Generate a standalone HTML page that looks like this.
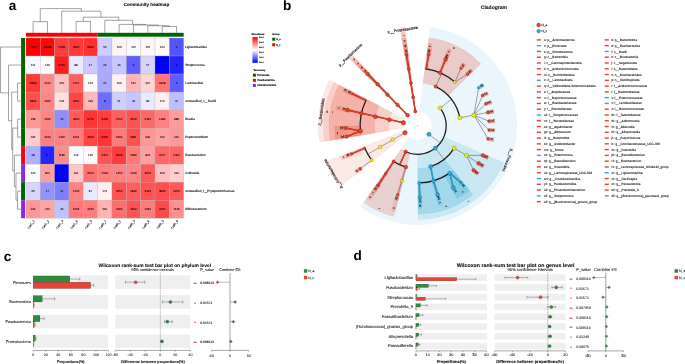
<!DOCTYPE html>
<html><head><meta charset="utf-8"><title>Figure</title>
<style>html,body{margin:0;padding:0;background:#fff;}svg{display:block;font-family:"Liberation Sans",sans-serif;will-change:transform;}</style>
</head><body>
<svg width="685" height="364" viewBox="0 0 685 364" text-rendering="geometricPrecision" font-family="Liberation Sans, sans-serif">
<rect x="0" y="0" width="685" height="364" fill="#ffffff"/>
<g id="pa">
<text x="8.7" y="9.9" font-size="13.6" font-weight="bold" fill="#000">a</text>
<text x="146.5" y="6.2" font-size="4.6" font-weight="bold" text-anchor="middle" fill="#000" stroke="#000" stroke-width="0.06">Community heatmap</text>
<g stroke="#b4acac" stroke-width="0.28">
<rect x="25.9" y="38" width="14.35" height="18.02" fill="#ff0000"/>
<rect x="40.24" y="38" width="14.35" height="18.02" fill="#ff0808"/>
<rect x="54.59" y="38" width="14.35" height="18.02" fill="#ff3d3d"/>
<rect x="68.94" y="38" width="14.35" height="18.02" fill="#ff3939"/>
<rect x="83.28" y="38" width="14.35" height="18.02" fill="#ff3232"/>
<rect x="97.62" y="38" width="14.35" height="18.02" fill="#cdcdff"/>
<rect x="111.97" y="38" width="14.35" height="18.02" fill="#fff4f4"/>
<rect x="126.31" y="38" width="14.35" height="18.02" fill="#f8f8ff"/>
<rect x="140.66" y="38" width="14.35" height="18.02" fill="#fff7f7"/>
<rect x="155.01" y="38" width="14.35" height="18.02" fill="#fffafa"/>
<rect x="169.35" y="38" width="14.35" height="18.02" fill="#5454ff"/>
<rect x="25.9" y="56.02" width="14.35" height="18.02" fill="#f7f7ff"/>
<rect x="40.24" y="56.02" width="14.35" height="18.02" fill="#fffbfb"/>
<rect x="54.59" y="56.02" width="14.35" height="18.02" fill="#ff1d1d"/>
<rect x="68.94" y="56.02" width="14.35" height="18.02" fill="#eaeaff"/>
<rect x="83.28" y="56.02" width="14.35" height="18.02" fill="#cacaff"/>
<rect x="97.62" y="56.02" width="14.35" height="18.02" fill="#ababff"/>
<rect x="111.97" y="56.02" width="14.35" height="18.02" fill="#c8c8ff"/>
<rect x="126.31" y="56.02" width="14.35" height="18.02" fill="#5e5eff"/>
<rect x="140.66" y="56.02" width="14.35" height="18.02" fill="#d4d4ff"/>
<rect x="155.01" y="56.02" width="14.35" height="18.02" fill="#0000ff"/>
<rect x="169.35" y="56.02" width="14.35" height="18.02" fill="#2424ff"/>
<rect x="25.9" y="74.04" width="14.35" height="18.02" fill="#ff3737"/>
<rect x="40.24" y="74.04" width="14.35" height="18.02" fill="#ff8a8a"/>
<rect x="54.59" y="74.04" width="14.35" height="18.02" fill="#ffc2c2"/>
<rect x="68.94" y="74.04" width="14.35" height="18.02" fill="#ff6060"/>
<rect x="83.28" y="74.04" width="14.35" height="18.02" fill="#fffafa"/>
<rect x="97.62" y="74.04" width="14.35" height="18.02" fill="#a9a9ff"/>
<rect x="111.97" y="74.04" width="14.35" height="18.02" fill="#fff2f2"/>
<rect x="126.31" y="74.04" width="14.35" height="18.02" fill="#ffb5b5"/>
<rect x="140.66" y="74.04" width="14.35" height="18.02" fill="#ffd4d4"/>
<rect x="155.01" y="74.04" width="14.35" height="18.02" fill="#ff7575"/>
<rect x="169.35" y="74.04" width="14.35" height="18.02" fill="#5e5eff"/>
<rect x="25.9" y="92.06" width="14.35" height="18.02" fill="#ff4e4e"/>
<rect x="40.24" y="92.06" width="14.35" height="18.02" fill="#ff8686"/>
<rect x="54.59" y="92.06" width="14.35" height="18.02" fill="#ffdede"/>
<rect x="68.94" y="92.06" width="14.35" height="18.02" fill="#ff4646"/>
<rect x="83.28" y="92.06" width="14.35" height="18.02" fill="#ffb9b9"/>
<rect x="97.62" y="92.06" width="14.35" height="18.02" fill="#6d6dff"/>
<rect x="111.97" y="92.06" width="14.35" height="18.02" fill="#ceceff"/>
<rect x="126.31" y="92.06" width="14.35" height="18.02" fill="#c5c5ff"/>
<rect x="140.66" y="92.06" width="14.35" height="18.02" fill="#e9e9ff"/>
<rect x="155.01" y="92.06" width="14.35" height="18.02" fill="#ffeeee"/>
<rect x="169.35" y="92.06" width="14.35" height="18.02" fill="#bdbdff"/>
<rect x="25.9" y="110.08" width="14.35" height="18.02" fill="#ff9797"/>
<rect x="40.24" y="110.08" width="14.35" height="18.02" fill="#ff8484"/>
<rect x="54.59" y="110.08" width="14.35" height="18.02" fill="#8e8eff"/>
<rect x="68.94" y="110.08" width="14.35" height="18.02" fill="#ff5959"/>
<rect x="83.28" y="110.08" width="14.35" height="18.02" fill="#ff3535"/>
<rect x="97.62" y="110.08" width="14.35" height="18.02" fill="#ff3e3e"/>
<rect x="111.97" y="110.08" width="14.35" height="18.02" fill="#ff5f5f"/>
<rect x="126.31" y="110.08" width="14.35" height="18.02" fill="#ff5151"/>
<rect x="140.66" y="110.08" width="14.35" height="18.02" fill="#ff6868"/>
<rect x="155.01" y="110.08" width="14.35" height="18.02" fill="#ff8080"/>
<rect x="169.35" y="110.08" width="14.35" height="18.02" fill="#ff9b9b"/>
<rect x="25.9" y="128.1" width="14.35" height="18.02" fill="#ffcccc"/>
<rect x="40.24" y="128.1" width="14.35" height="18.02" fill="#ff7e7e"/>
<rect x="54.59" y="128.1" width="14.35" height="18.02" fill="#ff8383"/>
<rect x="68.94" y="128.1" width="14.35" height="18.02" fill="#ff7b7b"/>
<rect x="83.28" y="128.1" width="14.35" height="18.02" fill="#ff4545"/>
<rect x="97.62" y="128.1" width="14.35" height="18.02" fill="#ff3535"/>
<rect x="111.97" y="128.1" width="14.35" height="18.02" fill="#ff7a7a"/>
<rect x="126.31" y="128.1" width="14.35" height="18.02" fill="#ff5050"/>
<rect x="140.66" y="128.1" width="14.35" height="18.02" fill="#ff9595"/>
<rect x="155.01" y="128.1" width="14.35" height="18.02" fill="#ffa1a1"/>
<rect x="169.35" y="128.1" width="14.35" height="18.02" fill="#ff9898"/>
<rect x="25.9" y="146.12" width="14.35" height="18.02" fill="#aeaeff"/>
<rect x="40.24" y="146.12" width="14.35" height="18.02" fill="#2424ff"/>
<rect x="54.59" y="146.12" width="14.35" height="18.02" fill="#ff8b8b"/>
<rect x="68.94" y="146.12" width="14.35" height="18.02" fill="#fafaff"/>
<rect x="83.28" y="146.12" width="14.35" height="18.02" fill="#fff9f9"/>
<rect x="97.62" y="146.12" width="14.35" height="18.02" fill="#ff5454"/>
<rect x="111.97" y="146.12" width="14.35" height="18.02" fill="#ff3a3a"/>
<rect x="126.31" y="146.12" width="14.35" height="18.02" fill="#ff7979"/>
<rect x="140.66" y="146.12" width="14.35" height="18.02" fill="#ff9f9f"/>
<rect x="155.01" y="146.12" width="14.35" height="18.02" fill="#ff6868"/>
<rect x="169.35" y="146.12" width="14.35" height="18.02" fill="#ff6767"/>
<rect x="25.9" y="164.14" width="14.35" height="18.02" fill="#fcfcff"/>
<rect x="40.24" y="164.14" width="14.35" height="18.02" fill="#ff9e9e"/>
<rect x="54.59" y="164.14" width="14.35" height="18.02" fill="#0000ff"/>
<rect x="68.94" y="164.14" width="14.35" height="18.02" fill="#ffc6c6"/>
<rect x="83.28" y="164.14" width="14.35" height="18.02" fill="#ff7070"/>
<rect x="97.62" y="164.14" width="14.35" height="18.02" fill="#ff7d7d"/>
<rect x="111.97" y="164.14" width="14.35" height="18.02" fill="#ff8181"/>
<rect x="126.31" y="164.14" width="14.35" height="18.02" fill="#ff8585"/>
<rect x="140.66" y="164.14" width="14.35" height="18.02" fill="#ff5959"/>
<rect x="155.01" y="164.14" width="14.35" height="18.02" fill="#ffbfbf"/>
<rect x="169.35" y="164.14" width="14.35" height="18.02" fill="#ffcfcf"/>
<rect x="25.9" y="182.16" width="14.35" height="18.02" fill="#d6d6ff"/>
<rect x="40.24" y="182.16" width="14.35" height="18.02" fill="#9494ff"/>
<rect x="54.59" y="182.16" width="14.35" height="18.02" fill="#7e7eff"/>
<rect x="68.94" y="182.16" width="14.35" height="18.02" fill="#ff8181"/>
<rect x="83.28" y="182.16" width="14.35" height="18.02" fill="#eaeaff"/>
<rect x="97.62" y="182.16" width="14.35" height="18.02" fill="#fff0f0"/>
<rect x="111.97" y="182.16" width="14.35" height="18.02" fill="#ff5252"/>
<rect x="126.31" y="182.16" width="14.35" height="18.02" fill="#ff5e5e"/>
<rect x="140.66" y="182.16" width="14.35" height="18.02" fill="#ff5353"/>
<rect x="155.01" y="182.16" width="14.35" height="18.02" fill="#ff4e4e"/>
<rect x="169.35" y="182.16" width="14.35" height="18.02" fill="#ff5959"/>
<rect x="25.9" y="200.18" width="14.35" height="18.02" fill="#ff9797"/>
<rect x="40.24" y="200.18" width="14.35" height="18.02" fill="#ffa4a4"/>
<rect x="54.59" y="200.18" width="14.35" height="18.02" fill="#c1c1ff"/>
<rect x="68.94" y="200.18" width="14.35" height="18.02" fill="#ff7b7b"/>
<rect x="83.28" y="200.18" width="14.35" height="18.02" fill="#ff7e7e"/>
<rect x="97.62" y="200.18" width="14.35" height="18.02" fill="#ffb3b3"/>
<rect x="111.97" y="200.18" width="14.35" height="18.02" fill="#ff6e6e"/>
<rect x="126.31" y="200.18" width="14.35" height="18.02" fill="#ff5353"/>
<rect x="140.66" y="200.18" width="14.35" height="18.02" fill="#ff7c7c"/>
<rect x="155.01" y="200.18" width="14.35" height="18.02" fill="#ff4a4a"/>
<rect x="169.35" y="200.18" width="14.35" height="18.02" fill="#ff8e8e"/>
</g>
<g font-size="2.9" text-anchor="middle" fill="#000" stroke="#000" stroke-width="0.05">
<text x="33.07" y="48.01">17017</text>
<text x="47.42" y="48.01">14688</text>
<text x="61.76" y="48.01">5258</text>
<text x="76.11" y="48.01">5695</text>
<text x="90.45" y="48.01">6599</text>
<text x="104.8" y="48.01">50</text>
<text x="119.14" y="48.01">160</text>
<text x="133.49" y="48.01">115</text>
<text x="147.83" y="48.01">152</text>
<text x="162.18" y="48.01">144</text>
<text x="176.52" y="48.01">5</text>
<text x="33.07" y="66.03">111</text>
<text x="47.42" y="66.03">140</text>
<text x="61.76" y="66.03">9752</text>
<text x="76.11" y="66.03">88</text>
<text x="90.45" y="66.03">47</text>
<text x="104.8" y="66.03">26</text>
<text x="119.14" y="66.03">46</text>
<text x="133.49" y="66.03">6</text>
<text x="147.83" y="66.03">57</text>
<text x="162.18" y="66.03">1</text>
<text x="176.52" y="66.03">2</text>
<text x="33.07" y="84.05">5898</text>
<text x="47.42" y="84.05">1223</text>
<text x="61.76" y="84.05">415</text>
<text x="76.11" y="84.05">2727</text>
<text x="90.45" y="84.05">144</text>
<text x="104.8" y="84.05">25</text>
<text x="119.14" y="84.05">166</text>
<text x="133.49" y="84.05">541</text>
<text x="147.83" y="84.05">297</text>
<text x="162.18" y="84.05">1828</text>
<text x="176.52" y="84.05">6</text>
<text x="33.07" y="102.07">3846</text>
<text x="47.42" y="102.07">1306</text>
<text x="61.76" y="102.07">244</text>
<text x="76.11" y="102.07">4451</text>
<text x="90.45" y="102.07">494</text>
<text x="104.8" y="102.07">8</text>
<text x="119.14" y="102.07">51</text>
<text x="133.49" y="102.07">43</text>
<text x="147.83" y="102.07">86</text>
<text x="162.18" y="102.07">179</text>
<text x="176.52" y="102.07">37</text>
<text x="33.07" y="120.09">948</text>
<text x="47.42" y="120.09">1366</text>
<text x="61.76" y="120.09">15</text>
<text x="76.11" y="120.09">3092</text>
<text x="90.45" y="120.09">6179</text>
<text x="104.8" y="120.09">5236</text>
<text x="119.14" y="120.09">2792</text>
<text x="133.49" y="120.09">3619</text>
<text x="147.83" y="120.09">2345</text>
<text x="162.18" y="120.09">1482</text>
<text x="176.52" y="120.09">888</text>
<text x="33.07" y="138.11">346</text>
<text x="47.42" y="138.11">1523</text>
<text x="61.76" y="138.11">1402</text>
<text x="76.11" y="138.11">1631</text>
<text x="90.45" y="138.11">4529</text>
<text x="104.8" y="138.11">6240</text>
<text x="119.14" y="138.11">1666</text>
<text x="133.49" y="138.11">3681</text>
<text x="147.83" y="138.11">996</text>
<text x="162.18" y="138.11">792</text>
<text x="176.52" y="138.11">942</text>
<text x="33.07" y="156.13">28</text>
<text x="47.42" y="156.13">2</text>
<text x="61.76" y="156.13">1186</text>
<text x="76.11" y="156.13">119</text>
<text x="90.45" y="156.13">146</text>
<text x="104.8" y="156.13">3421</text>
<text x="119.14" y="156.13">5628</text>
<text x="133.49" y="156.13">1689</text>
<text x="147.83" y="156.13">824</text>
<text x="162.18" y="156.13">2317</text>
<text x="176.52" y="156.13">2394</text>
<text x="33.07" y="174.15">123</text>
<text x="47.42" y="174.15">829</text>
<text x="61.76" y="174.15">1</text>
<text x="76.11" y="174.15">391</text>
<text x="90.45" y="174.15">2014</text>
<text x="104.8" y="174.15">1569</text>
<text x="119.14" y="174.15">1450</text>
<text x="133.49" y="174.15">1340</text>
<text x="147.83" y="174.15">3079</text>
<text x="162.18" y="174.15">440</text>
<text x="176.52" y="174.15">329</text>
<text x="33.07" y="192.17">60</text>
<text x="47.42" y="192.17">17</text>
<text x="61.76" y="192.17">11</text>
<text x="76.11" y="192.17">1436</text>
<text x="90.45" y="192.17">87</text>
<text x="104.8" y="192.17">173</text>
<text x="119.14" y="192.17">3556</text>
<text x="133.49" y="192.17">2839</text>
<text x="147.83" y="192.17">3463</text>
<text x="162.18" y="192.17">3840</text>
<text x="176.52" y="192.17">3079</text>
<text x="33.07" y="210.19">949</text>
<text x="47.42" y="210.19">746</text>
<text x="61.76" y="210.19">40</text>
<text x="76.11" y="210.19">1634</text>
<text x="90.45" y="210.19">1530</text>
<text x="104.8" y="210.19">562</text>
<text x="119.14" y="210.19">2100</text>
<text x="133.49" y="210.19">3462</text>
<text x="147.83" y="210.19">1581</text>
<text x="162.18" y="210.19">4103</text>
<text x="176.52" y="210.19">1130</text>
</g>
<rect x="25.9" y="32.8" width="71.73" height="3.9" fill="#ff0000"/>
<rect x="97.62" y="32.8" width="86.07" height="3.9" fill="#006400"/>
<rect x="21.1" y="38" width="3.9" height="18.02" fill="#006400"/>
<rect x="21.1" y="56.02" width="3.9" height="18.02" fill="#006400"/>
<rect x="21.1" y="74.04" width="3.9" height="18.02" fill="#006400"/>
<rect x="21.1" y="92.06" width="3.9" height="18.02" fill="#006400"/>
<rect x="21.1" y="110.08" width="3.9" height="18.02" fill="#006400"/>
<rect x="21.1" y="128.1" width="3.9" height="18.02" fill="#006400"/>
<rect x="21.1" y="146.12" width="3.9" height="18.02" fill="#ff0000"/>
<rect x="21.1" y="164.14" width="3.9" height="18.02" fill="#8a2be2"/>
<rect x="21.1" y="182.16" width="3.9" height="18.02" fill="#006400"/>
<rect x="21.1" y="200.18" width="3.9" height="18.02" fill="#8a2be2"/>
<text x="185.2" y="48.11" font-size="3.1" fill="#000" stroke="#000" stroke-width="0.08">Ligilactobacillus</text>
<text x="185.2" y="66.13" font-size="3.1" fill="#000" stroke="#000" stroke-width="0.08">Streptococcus</text>
<text x="185.2" y="84.15" font-size="3.1" fill="#000" stroke="#000" stroke-width="0.08">Lactobacillus</text>
<text x="185.2" y="102.17" font-size="3.1" fill="#000" stroke="#000" stroke-width="0.08">unclassified_c__Bacilli</text>
<text x="185.2" y="120.19" font-size="3.1" fill="#000" stroke="#000" stroke-width="0.08">Blautia</text>
<text x="185.2" y="138.21" font-size="3.1" fill="#000" stroke="#000" stroke-width="0.08">Peptoclostridium</text>
<text x="185.2" y="156.23" font-size="3.1" fill="#000" stroke="#000" stroke-width="0.08">Fusobacterium</text>
<text x="185.2" y="174.25" font-size="3.1" fill="#000" stroke="#000" stroke-width="0.08">Collinsella</text>
<text x="185.2" y="192.27" font-size="3.1" fill="#000" stroke="#000" stroke-width="0.08">unclassified_f__Erysipelotrichaceae</text>
<text x="185.2" y="210.29" font-size="3.1" fill="#000" stroke="#000" stroke-width="0.08">Bifidobacterium</text>
<text x="34.77" y="221" font-size="3" text-anchor="end" fill="#000" stroke="#000" stroke-width="0.08" transform="rotate(-55 34.77 221)">CatC_1</text>
<text x="49.12" y="221" font-size="3" text-anchor="end" fill="#000" stroke="#000" stroke-width="0.08" transform="rotate(-55 49.12 221)">CatC_2</text>
<text x="63.46" y="221" font-size="3" text-anchor="end" fill="#000" stroke="#000" stroke-width="0.08" transform="rotate(-55 63.46 221)">CatC_3</text>
<text x="77.81" y="221" font-size="3" text-anchor="end" fill="#000" stroke="#000" stroke-width="0.08" transform="rotate(-55 77.81 221)">CatC_4</text>
<text x="92.15" y="221" font-size="3" text-anchor="end" fill="#000" stroke="#000" stroke-width="0.08" transform="rotate(-55 92.15 221)">CatC_5</text>
<text x="106.5" y="221" font-size="3" text-anchor="end" fill="#000" stroke="#000" stroke-width="0.08" transform="rotate(-55 106.5 221)">CatN_1</text>
<text x="120.84" y="221" font-size="3" text-anchor="end" fill="#000" stroke="#000" stroke-width="0.08" transform="rotate(-55 120.84 221)">CatN_2</text>
<text x="135.19" y="221" font-size="3" text-anchor="end" fill="#000" stroke="#000" stroke-width="0.08" transform="rotate(-55 135.19 221)">CatN_3</text>
<text x="149.53" y="221" font-size="3" text-anchor="end" fill="#000" stroke="#000" stroke-width="0.08" transform="rotate(-55 149.53 221)">CatN_4</text>
<text x="163.88" y="221" font-size="3" text-anchor="end" fill="#000" stroke="#000" stroke-width="0.08" transform="rotate(-55 163.88 221)">CatN_5</text>
<text x="178.22" y="221" font-size="3" text-anchor="end" fill="#000" stroke="#000" stroke-width="0.08" transform="rotate(-55 178.22 221)">CatN_6</text>
<g stroke="#333" stroke-width="0.45" fill="none">
<path d="M33.07 32.8V21.6H47.42V32.8"/>
<path d="M76.11 32.8V21.4H90.45V32.8"/>
<path d="M162.18 32.8V26.5H176.52V32.8"/>
<path d="M147.83 32.8V25.7H169.35V26.5"/>
<path d="M133.49 32.8V25H158.59V25.7"/>
<path d="M119.14 32.8V24.4H146.04V25"/>
<path d="M104.8 32.8V20.3H132.59V24.4"/>
<path d="M83.28 21.4V17.2H118.69V20.3"/>
<path d="M61.76 32.8V11.2H100.99V17.2"/>
<path d="M40.25 21.6V8.6H81.37V11.2"/>
<path d="M21.1 83.05H17.6V101.07H21.1"/>
<path d="M21.1 119.09H17.6V137.11H21.1"/>
<path d="M21.1 191.17H17.6V209.19H21.1"/>
<path d="M21.1 173.15H16V200.18H17.6"/>
<path d="M21.1 155.13H14.4V186.67H16"/>
<path d="M17.6 128.1H12.7V170.9H14.4"/>
<path d="M17.6 92.06H11.7V149.5H12.7"/>
<path d="M21.1 65.03H8.5V120.78H11.7"/>
<path d="M21.1 47.01H0.5V92.9H8.5"/>
</g>
<defs><linearGradient id="ab" x1="0" y1="0" x2="0" y2="1"><stop offset="0" stop-color="#ff0000"/><stop offset="0.5" stop-color="#ffffff"/><stop offset="1" stop-color="#0000ff"/></linearGradient></defs>
<text x="251.2" y="35.4" font-size="2.45" font-weight="bold" fill="#000" stroke="#000" stroke-width="0.12">Abundance</text>
<rect x="252.4" y="37.1" width="5.4" height="25.7" fill="url(#ab)"/>
<text x="259" y="37.6" font-size="2.1" fill="#000" stroke="#000" stroke-width="0.11">1e+4</text>
<text x="259" y="42.75" font-size="2.1" fill="#000" stroke="#000" stroke-width="0.11">2e+3</text>
<text x="259" y="47.9" font-size="2.1" fill="#000" stroke="#000" stroke-width="0.11">2e+2</text>
<text x="259" y="53.05" font-size="2.1" fill="#000" stroke="#000" stroke-width="0.11">3e+1</text>
<text x="259" y="58.2" font-size="2.1" fill="#000" stroke="#000" stroke-width="0.11">7e+0</text>
<text x="259" y="63.35" font-size="2.1" fill="#000" stroke="#000" stroke-width="0.11">1e+0</text>
<text x="272.2" y="35.4" font-size="2.45" font-weight="bold" fill="#000" stroke="#000" stroke-width="0.12">Group</text>
<rect x="272.2" y="37.7" width="3" height="3" fill="#006400"/>
<text x="276.2" y="40.1" font-size="2.45" fill="#000" stroke="#000" stroke-width="0.12">N_a</text>
<rect x="272.2" y="43.2" width="3" height="3" fill="#ff0000"/>
<text x="276.2" y="45.6" font-size="2.45" fill="#000" stroke="#000" stroke-width="0.12">N_c</text>
<text x="253.4" y="71.1" font-size="2.45" font-weight="bold" fill="#000" stroke="#000" stroke-width="0.12">Taxonomy</text>
<rect x="252.9" y="73.7" width="3" height="3" fill="#006400"/>
<text x="257.2" y="76.1" font-size="2.66" fill="#000" stroke="#000" stroke-width="0.13">Firmicutes</text>
<rect x="252.9" y="78.85" width="3" height="3" fill="#ff0000"/>
<text x="257.2" y="81.25" font-size="2.66" fill="#000" stroke="#000" stroke-width="0.13">Fusobacteriota</text>
<rect x="252.9" y="84" width="3" height="3" fill="#8a2be2"/>
<text x="257.2" y="86.4" font-size="2.66" fill="#000" stroke="#000" stroke-width="0.13">Actinobacteriota</text>
</g>
<g id="pb">
<text x="283" y="9.9" font-size="13.6" font-weight="bold" fill="#000">b</text>
<text x="493.9" y="8.5" font-size="5" font-weight="bold" text-anchor="middle" fill="#000" stroke="#000" stroke-width="0.06">Cladogram</text>
<path d="M419.35 111.37L430.28 27.23A99.2 99.2 0 1 1 360.32 206.66L409.23 137.33A14.35 14.35 0 1 0 419.35 111.37Z" fill="#2fa9d3" fill-opacity="0.1" stroke="#2fa9d3" stroke-opacity="0.15" stroke-width="0.25"/>
<path d="M423.12 82.92L429.05 37.86A88.5 88.5 0 0 1 480.73 63.68L448.26 95.48A43.05 43.05 0 0 0 423.12 82.92Z" fill="#e8432b" fill-opacity="0.24" stroke="#e8432b" stroke-opacity="0.38" stroke-width="0.25"/>
<path d="M425.04 68.7L428.41 43.32A83 83 0 0 1 432.27 43.92L427.71 69.12A57.4 57.4 0 0 0 425.04 68.7Z" fill="#e8432b" fill-opacity="0.2" stroke="#e8432b" stroke-opacity="0.32" stroke-width="0.25"/>
<path d="M438.68 72.25L448.12 48.46A83 83 0 0 1 451.72 49.98L441.17 73.31A57.4 57.4 0 0 0 438.68 72.25Z" fill="#e8432b" fill-opacity="0.2" stroke="#e8432b" stroke-opacity="0.32" stroke-width="0.25"/>
<path d="M426.93 54.47L427.7 48.67A77.6 77.6 0 0 1 431.31 49.24L430.27 55A71.75 71.75 0 0 0 426.93 54.47Z" fill="#e8432b" fill-opacity="0.42" stroke="#e8432b" stroke-opacity="0.67" stroke-width="0.25"/>
<path d="M443.97 58.91L446.13 53.47A77.6 77.6 0 0 1 449.5 54.9L447.08 60.23A71.75 71.75 0 0 0 443.97 58.91Z" fill="#e8432b" fill-opacity="0.42" stroke="#e8432b" stroke-opacity="0.67" stroke-width="0.25"/>
<path d="M459.52 67.44L462.95 62.7A77.6 77.6 0 0 1 465.86 64.91L462.21 69.49A71.75 71.75 0 0 0 459.52 67.44Z" fill="#e8432b" fill-opacity="0.42" stroke="#e8432b" stroke-opacity="0.67" stroke-width="0.25"/>
<path d="M466.3 73L470.27 68.71A77.6 77.6 0 0 1 472.9 71.26L468.72 75.35A71.75 71.75 0 0 0 466.3 73Z" fill="#e8432b" fill-opacity="0.42" stroke="#e8432b" stroke-opacity="0.67" stroke-width="0.25"/>
<path d="M477.64 86.47L482.54 83.28A77.6 77.6 0 0 1 484.47 86.39L479.42 89.35A71.75 71.75 0 0 0 477.64 86.47Z" fill="#2fa9d3" fill-opacity="0.52" stroke="#2fa9d3" stroke-opacity="0.83" stroke-width="0.25"/>
<path d="M481.91 93.98L487.16 91.4A77.6 77.6 0 0 1 488.69 94.72L483.32 97.05A71.75 71.75 0 0 0 481.91 93.98Z" fill="#e8432b" fill-opacity="0.42" stroke="#e8432b" stroke-opacity="0.67" stroke-width="0.25"/>
<path d="M485.32 102.18L490.85 100.27A77.6 77.6 0 0 1 491.96 103.76L486.35 105.4A71.75 71.75 0 0 0 485.32 102.18Z" fill="#e8432b" fill-opacity="0.42" stroke="#e8432b" stroke-opacity="0.67" stroke-width="0.25"/>
<path d="M487.7 110.74L493.42 109.53A77.6 77.6 0 0 1 494.09 113.13L488.32 114.07A71.75 71.75 0 0 0 487.7 110.74Z" fill="#e8432b" fill-opacity="0.42" stroke="#e8432b" stroke-opacity="0.67" stroke-width="0.25"/>
<path d="M488.99 119.53L494.82 119.04A77.6 77.6 0 0 1 495.05 122.69L489.2 122.91A71.75 71.75 0 0 0 488.99 119.53Z" fill="#e8432b" fill-opacity="0.42" stroke="#e8432b" stroke-opacity="0.67" stroke-width="0.25"/>
<path d="M489.19 128.42L495.04 128.65A77.6 77.6 0 0 1 494.81 132.3L488.98 131.79A71.75 71.75 0 0 0 489.19 128.42Z" fill="#e8432b" fill-opacity="0.42" stroke="#e8432b" stroke-opacity="0.67" stroke-width="0.25"/>
<path d="M488.32 137.13L494.09 138.07A77.6 77.6 0 0 1 493.42 141.67L487.7 140.46A71.75 71.75 0 0 0 488.32 137.13Z" fill="#e8432b" fill-opacity="0.42" stroke="#e8432b" stroke-opacity="0.67" stroke-width="0.25"/>
<path d="M443.88 136.91L503.9 162.63A94 94 0 0 1 418.16 219.6L417.7 154.3A28.7 28.7 0 0 0 443.88 136.91Z" fill="#2fa9d3" fill-opacity="0.17" stroke="#2fa9d3" stroke-opacity="0.27" stroke-width="0.25"/>
<path d="M483.47 153.81L488.85 156.11A77.6 77.6 0 0 1 487.34 159.43L482.07 156.88A71.75 71.75 0 0 0 483.47 153.81Z" fill="#e8432b" fill-opacity="0.52" stroke="#e8432b" stroke-opacity="0.83" stroke-width="0.25"/>
<path d="M479.42 161.85L484.47 164.81A77.6 77.6 0 0 1 482.54 167.92L477.64 164.73A71.75 71.75 0 0 0 479.42 161.85Z" fill="#e8432b" fill-opacity="0.52" stroke="#e8432b" stroke-opacity="0.83" stroke-width="0.25"/>
<path d="M474.69 168.93L479.35 172.46A77.6 77.6 0 0 1 477.08 175.32L472.58 171.58A71.75 71.75 0 0 0 474.69 168.93Z" fill="#e8432b" fill-opacity="0.52" stroke="#e8432b" stroke-opacity="0.83" stroke-width="0.25"/>
<path d="M444.42 159.2L472.83 194.67A88.5 88.5 0 0 1 418.12 214.1L417.8 168.65A43.05 43.05 0 0 0 444.42 159.2Z" fill="#2fa9d3" fill-opacity="0.24" stroke="#2fa9d3" stroke-opacity="0.38" stroke-width="0.25"/>
<path d="M453.39 170.4L469.4 190.38A83 83 0 0 1 457.23 198.47L444.98 176A57.4 57.4 0 0 0 453.39 170.4Z" fill="#2fa9d3" fill-opacity="0.27" stroke="#2fa9d3" stroke-opacity="0.43" stroke-width="0.25"/>
<path d="M434.62 180.39L442.25 204.82A83 83 0 0 1 438.49 205.9L432.02 181.13A57.4 57.4 0 0 0 434.62 180.39Z" fill="#2fa9d3" fill-opacity="0.22" stroke="#2fa9d3" stroke-opacity="0.35" stroke-width="0.25"/>
<path d="M420.65 182.91L422.06 208.47A83 83 0 0 1 418.15 208.6L417.95 183A57.4 57.4 0 0 0 420.65 182.91Z" fill="#2fa9d3" fill-opacity="0.22" stroke="#2fa9d3" stroke-opacity="0.35" stroke-width="0.25"/>
<path d="M462.41 181.56L466.07 186.12A77.6 77.6 0 0 1 463.17 188.34L459.72 183.61A71.75 71.75 0 0 0 462.41 181.56Z" fill="#2fa9d3" fill-opacity="0.25" stroke="#2fa9d3" stroke-opacity="0.4" stroke-width="0.25"/>
<path d="M454.72 186.94L457.76 191.94A77.6 77.6 0 0 1 454.59 193.76L451.79 188.63A71.75 71.75 0 0 0 454.72 186.94Z" fill="#2fa9d3" fill-opacity="0.25" stroke="#2fa9d3" stroke-opacity="0.4" stroke-width="0.25"/>
<path d="M439.14 194.01L440.9 199.59A77.6 77.6 0 0 1 437.39 200.61L435.89 194.95A71.75 71.75 0 0 0 439.14 194.01Z" fill="#2fa9d3" fill-opacity="0.25" stroke="#2fa9d3" stroke-opacity="0.4" stroke-width="0.25"/>
<path d="M421.44 197.24L421.76 203.08A77.6 77.6 0 0 1 418.11 203.2L418.06 197.35A71.75 71.75 0 0 0 421.44 197.24Z" fill="#2fa9d3" fill-opacity="0.25" stroke="#2fa9d3" stroke-opacity="0.4" stroke-width="0.25"/>
<path d="M410.22 153.36L393.65 216.52A94 94 0 0 1 363.85 202.79L401.12 149.17A28.7 28.7 0 0 0 410.22 153.36Z" fill="#e8432b" fill-opacity="0.2" stroke="#e8432b" stroke-opacity="0.32" stroke-width="0.25"/>
<path d="M406.76 167.29L395.42 211.3A88.5 88.5 0 0 1 391.4 210.16L404.81 166.74A43.05 43.05 0 0 0 406.76 167.29Z" fill="#e8432b" fill-opacity="0.16" stroke="#e8432b" stroke-opacity="0.26" stroke-width="0.25"/>
<path d="M394.59 162.05L370.41 200.53A88.5 88.5 0 0 1 366.93 198.23L392.9 160.93A43.05 43.05 0 0 0 394.59 162.05Z" fill="#e8432b" fill-opacity="0.16" stroke="#e8432b" stroke-opacity="0.26" stroke-width="0.25"/>
<path d="M386.96 174.2L373.33 195.87A83 83 0 0 1 370.07 193.71L384.7 172.71A57.4 57.4 0 0 0 386.96 174.2Z" fill="#e8432b" fill-opacity="0.2" stroke="#e8432b" stroke-opacity="0.32" stroke-width="0.25"/>
<path d="M399.35 195.02L397.87 200.68A77.6 77.6 0 0 1 394.36 199.67L396.1 194.09A71.75 71.75 0 0 0 399.35 195.02Z" fill="#e8432b" fill-opacity="0.3" stroke="#e8432b" stroke-opacity="0.48" stroke-width="0.25"/>
<path d="M379.43 186.41L376.32 191.37A77.6 77.6 0 0 1 373.27 189.36L376.6 184.55A71.75 71.75 0 0 0 379.43 186.41Z" fill="#e8432b" fill-opacity="0.3" stroke="#e8432b" stroke-opacity="0.48" stroke-width="0.25"/>
<path d="M406.22 134.47L339.54 186.95A99.2 99.2 0 0 1 325.08 161.63L404.13 130.81A14.35 14.35 0 0 0 406.22 134.47Z" fill="#e8432b" fill-opacity="0.12" stroke="#e8432b" stroke-opacity="0.2" stroke-width="0.25"/>
<path d="M365.29 149.45L342 160.09A83 83 0 0 1 340.46 156.49L364.22 146.96A57.4 57.4 0 0 0 365.29 149.45Z" fill="#e8432b" fill-opacity="0.2" stroke="#e8432b" stroke-opacity="0.32" stroke-width="0.25"/>
<path d="M361.23 170.12L356.64 173.75A77.6 77.6 0 0 1 354.44 170.83L359.2 167.42A71.75 71.75 0 0 0 361.23 170.12Z" fill="#e8432b" fill-opacity="0.3" stroke="#e8432b" stroke-opacity="0.48" stroke-width="0.25"/>
<path d="M352.24 155.41L346.92 157.84A77.6 77.6 0 0 1 345.47 154.48L350.9 152.3A71.75 71.75 0 0 0 352.24 155.41Z" fill="#e8432b" fill-opacity="0.3" stroke="#e8432b" stroke-opacity="0.48" stroke-width="0.25"/>
<path d="M403.35 127.99L319.69 142.14A99.2 99.2 0 0 1 329.35 80.1L404.75 119.02A14.35 14.35 0 0 0 403.35 127.99Z" fill="#e8432b" fill-opacity="0.12" stroke="#e8432b" stroke-opacity="0.2" stroke-width="0.25"/>
<path d="M389.2 130.39L324.82 141.28A94 94 0 0 1 333.97 82.49L392 112.44A28.7 28.7 0 0 0 389.2 130.39Z" fill="#e8432b" fill-opacity="0.15" stroke="#e8432b" stroke-opacity="0.24" stroke-width="0.25"/>
<path d="M375.05 132.78L330.24 140.36A88.5 88.5 0 0 1 338.86 85.01L379.25 105.86A43.05 43.05 0 0 0 375.05 132.78Z" fill="#e8432b" fill-opacity="0.2" stroke="#e8432b" stroke-opacity="0.32" stroke-width="0.25"/>
<path d="M360.9 135.17L335.66 139.44A83 83 0 0 1 334.5 126.32L360.1 126.1A57.4 57.4 0 0 0 360.9 135.17Z" fill="#e8432b" fill-opacity="0.25" stroke="#e8432b" stroke-opacity="0.4" stroke-width="0.25"/>
<path d="M361.16 114.6L336.04 109.69A83 83 0 0 1 336.88 105.87L361.74 111.96A57.4 57.4 0 0 0 361.16 114.6Z" fill="#e8432b" fill-opacity="0.2" stroke="#e8432b" stroke-opacity="0.32" stroke-width="0.25"/>
<path d="M365.33 101.66L342.06 90.98A83 83 0 0 1 343.78 87.47L366.52 99.23A57.4 57.4 0 0 0 365.33 101.66Z" fill="#e8432b" fill-opacity="0.2" stroke="#e8432b" stroke-opacity="0.32" stroke-width="0.25"/>
<path d="M346.87 138.24L341.11 139.28A77.6 77.6 0 0 1 340.56 135.66L346.36 134.9A71.75 71.75 0 0 0 346.87 138.24Z" fill="#e8432b" fill-opacity="0.25" stroke="#e8432b" stroke-opacity="0.4" stroke-width="0.25"/>
<path d="M345.87 129.67L340.02 130A77.6 77.6 0 0 1 339.9 126.34L345.75 126.29A71.75 71.75 0 0 0 345.87 129.67Z" fill="#e8432b" fill-opacity="0.25" stroke="#e8432b" stroke-opacity="0.4" stroke-width="0.25"/>
<path d="M347.1 111.73L341.36 110.59A77.6 77.6 0 0 1 342.16 107.02L347.84 108.42A71.75 71.75 0 0 0 347.1 111.73Z" fill="#e8432b" fill-opacity="0.25" stroke="#e8432b" stroke-opacity="0.4" stroke-width="0.25"/>
<path d="M352.29 95.67L346.97 93.24A77.6 77.6 0 0 1 348.57 89.95L353.77 92.64A71.75 71.75 0 0 0 352.29 95.67Z" fill="#e8432b" fill-opacity="0.25" stroke="#e8432b" stroke-opacity="0.4" stroke-width="0.25"/>
<path d="M407.29 115.52L346.93 55.88A99.2 99.2 0 0 1 350.29 52.64L407.78 115.05A14.35 14.35 0 0 0 407.29 115.52Z" fill="#e8432b" fill-opacity="0.17" stroke="#e8432b" stroke-opacity="0.26" stroke-width="0.25"/>
<path d="M397.08 105.43L350.63 59.54A94 94 0 0 1 353.81 56.46L398.06 104.49A28.7 28.7 0 0 0 397.08 105.43Z" fill="#e8432b" fill-opacity="0.17" stroke="#e8432b" stroke-opacity="0.26" stroke-width="0.25"/>
<path d="M386.87 95.35L354.54 63.4A88.5 88.5 0 0 1 357.54 60.51L388.33 93.94A43.05 43.05 0 0 0 386.87 95.35Z" fill="#e8432b" fill-opacity="0.17" stroke="#e8432b" stroke-opacity="0.26" stroke-width="0.25"/>
<path d="M376.66 85.26L358.45 67.27A83 83 0 0 1 361.27 64.55L378.61 83.38A57.4 57.4 0 0 0 376.66 85.26Z" fill="#e8432b" fill-opacity="0.17" stroke="#e8432b" stroke-opacity="0.26" stroke-width="0.25"/>
<path d="M366.46 75.18L362.29 71.06A77.6 77.6 0 0 1 364.92 68.52L368.89 72.83A71.75 71.75 0 0 0 366.46 75.18Z" fill="#e8432b" fill-opacity="0.17" stroke="#e8432b" stroke-opacity="0.26" stroke-width="0.25"/>
<path d="M414.97 111.47L400.02 27.95A99.2 99.2 0 0 1 404.64 27.24L415.64 111.37A14.35 14.35 0 0 0 414.97 111.47Z" fill="#e8432b" fill-opacity="0.17" stroke="#e8432b" stroke-opacity="0.26" stroke-width="0.25"/>
<path d="M412.44 97.35L400.93 33.07A94 94 0 0 1 405.31 32.39L413.78 97.14A28.7 28.7 0 0 0 412.44 97.35Z" fill="#e8432b" fill-opacity="0.17" stroke="#e8432b" stroke-opacity="0.26" stroke-width="0.25"/>
<path d="M409.91 83.22L401.9 38.49A88.5 88.5 0 0 1 406.03 37.85L411.92 82.91A43.05 43.05 0 0 0 409.91 83.22Z" fill="#e8432b" fill-opacity="0.17" stroke="#e8432b" stroke-opacity="0.26" stroke-width="0.25"/>
<path d="M407.38 69.1L402.87 43.9A83 83 0 0 1 406.74 43.3L410.06 68.68A57.4 57.4 0 0 0 407.38 69.1Z" fill="#e8432b" fill-opacity="0.17" stroke="#e8432b" stroke-opacity="0.26" stroke-width="0.25"/>
<path d="M404.86 54.97L403.82 49.21A77.6 77.6 0 0 1 407.44 48.66L408.2 54.46A71.75 71.75 0 0 0 404.86 54.97Z" fill="#e8432b" fill-opacity="0.17" stroke="#e8432b" stroke-opacity="0.26" stroke-width="0.25"/>
<line x1="428.92" y1="134.3" x2="440.33" y2="142.99" stroke="#222" stroke-width="0.4"/>
<path d="M440.18 108.01A28.7 28.7 0 0 1 405.64 151.74" fill="none" stroke="#1a1a1a" stroke-width="1.25" stroke-linecap="round"/>
<line x1="440.18" y1="108.01" x2="451.52" y2="99.21" stroke="#222" stroke-width="0.4"/>
<path d="M435.69 86.58A43.05 43.05 0 0 1 459.84 117.83" fill="none" stroke="#1a1a1a" stroke-width="1.25" stroke-linecap="round"/>
<line x1="435.69" y1="86.58" x2="441.76" y2="73.58" stroke="#222" stroke-width="0.4"/>
<path d="M426.28 68.88A57.4 57.4 0 0 1 454.85 82.02" fill="none" stroke="#1a1a1a" stroke-width="1.25" stroke-linecap="round"/>
<line x1="426.28" y1="68.88" x2="428.6" y2="54.71" stroke="#9c2412" stroke-width="1.5"/>
<line x1="426.28" y1="68.88" x2="428.6" y2="54.71" stroke="#e8432b" stroke-width="0.95"/>
<line x1="440.11" y1="72.84" x2="445.53" y2="59.55" stroke="#9c2412" stroke-width="1.5"/>
<line x1="440.11" y1="72.84" x2="445.53" y2="59.55" stroke="#e8432b" stroke-width="0.95"/>
<line x1="454.85" y1="82.02" x2="460.88" y2="68.45" stroke="#222" stroke-width="0.4"/>
<line x1="454.85" y1="82.02" x2="467.52" y2="74.16" stroke="#222" stroke-width="0.4"/>
<line x1="459.84" y1="117.83" x2="473.94" y2="115.14" stroke="#222" stroke-width="0.4"/>
<line x1="473.94" y1="115.14" x2="478.55" y2="87.9" stroke="#222" stroke-width="0.4"/>
<line x1="473.94" y1="115.14" x2="482.63" y2="95.5" stroke="#222" stroke-width="0.4"/>
<line x1="473.94" y1="115.14" x2="485.85" y2="103.79" stroke="#222" stroke-width="0.4"/>
<line x1="473.94" y1="115.14" x2="488.03" y2="112.4" stroke="#222" stroke-width="0.4"/>
<line x1="473.94" y1="115.14" x2="489.12" y2="121.22" stroke="#222" stroke-width="0.4"/>
<line x1="473.94" y1="115.14" x2="489.11" y2="130.11" stroke="#222" stroke-width="0.4"/>
<line x1="473.94" y1="115.14" x2="488.03" y2="138.8" stroke="#222" stroke-width="0.4"/>
<line x1="435.25" y1="148.15" x2="444.12" y2="159.43" stroke="#222" stroke-width="0.4"/>
<path d="M454.17 148.16A43.05 43.05 0 0 1 430.66 166.59" fill="none" stroke="#1a1a1a" stroke-width="1.25" stroke-linecap="round"/>
<line x1="454.17" y1="148.16" x2="466.55" y2="155.42" stroke="#222" stroke-width="0.4"/>
<line x1="466.55" y1="155.42" x2="482.79" y2="155.35" stroke="#222" stroke-width="0.4"/>
<line x1="466.55" y1="155.42" x2="478.55" y2="163.3" stroke="#222" stroke-width="0.4"/>
<line x1="466.55" y1="155.42" x2="473.65" y2="170.27" stroke="#222" stroke-width="0.4"/>
<line x1="430.66" y1="166.59" x2="433.32" y2="180.78" stroke="#1f7595" stroke-width="1.5"/>
<line x1="430.66" y1="166.59" x2="433.32" y2="180.78" stroke="#2fa9d3" stroke-width="0.95"/>
<path d="M449.68 173.13A57.4 57.4 0 0 1 419.3 182.97" fill="none" stroke="#1a1a1a" stroke-width="1.25" stroke-linecap="round"/>
<line x1="449.68" y1="173.13" x2="461.08" y2="182.6" stroke="#1f7595" stroke-width="1.5"/>
<line x1="449.68" y1="173.13" x2="461.08" y2="182.6" stroke="#2fa9d3" stroke-width="0.95"/>
<line x1="449.68" y1="173.13" x2="453.27" y2="187.8" stroke="#1f7595" stroke-width="1.5"/>
<line x1="449.68" y1="173.13" x2="453.27" y2="187.8" stroke="#2fa9d3" stroke-width="0.95"/>
<line x1="433.32" y1="180.78" x2="437.52" y2="194.5" stroke="#1f7595" stroke-width="1.5"/>
<line x1="433.32" y1="180.78" x2="437.52" y2="194.5" stroke="#2fa9d3" stroke-width="0.95"/>
<line x1="419.3" y1="182.97" x2="419.75" y2="197.31" stroke="#1f7595" stroke-width="1.5"/>
<line x1="419.3" y1="182.97" x2="419.75" y2="197.31" stroke="#2fa9d3" stroke-width="0.95"/>
<line x1="405.64" y1="151.74" x2="399.72" y2="164.8" stroke="#9c2412" stroke-width="1.5"/>
<line x1="405.64" y1="151.74" x2="399.72" y2="164.8" stroke="#e8432b" stroke-width="0.95"/>
<path d="M405.85 167.04A43.05 43.05 0 0 1 393.68 161.46" fill="none" stroke="#1a1a1a" stroke-width="1.25" stroke-linecap="round"/>
<line x1="393.68" y1="161.46" x2="378" y2="185.5" stroke="#9c2412" stroke-width="1.5"/>
<line x1="393.68" y1="161.46" x2="378" y2="185.5" stroke="#e8432b" stroke-width="0.95"/>
<line x1="405.85" y1="167.04" x2="401.87" y2="180.83" stroke="#222" stroke-width="0.4"/>
<line x1="401.87" y1="180.83" x2="397.72" y2="194.57" stroke="#222" stroke-width="0.4"/>
<line x1="405.01" y1="132.67" x2="380.18" y2="147.06" stroke="#222" stroke-width="0.4"/>
<line x1="380.18" y1="147.06" x2="367.74" y2="154.21" stroke="#222" stroke-width="0.4"/>
<path d="M371.66 160.14A57.4 57.4 0 0 1 364.7 148.12" fill="none" stroke="#1a1a1a" stroke-width="1.25" stroke-linecap="round"/>
<line x1="371.66" y1="160.14" x2="360.2" y2="168.78" stroke="#222" stroke-width="0.4"/>
<line x1="364.7" y1="148.12" x2="351.55" y2="153.87" stroke="#9c2412" stroke-width="1.5"/>
<line x1="364.7" y1="148.12" x2="351.55" y2="153.87" stroke="#e8432b" stroke-width="0.95"/>
<line x1="403.43" y1="122.79" x2="347.45" y2="110.07" stroke="#9c2412" stroke-width="1.5"/>
<line x1="403.43" y1="122.79" x2="347.45" y2="110.07" stroke="#e8432b" stroke-width="0.95"/>
<path d="M360.35 131A57.4 57.4 0 0 1 365.91 100.44" fill="none" stroke="#1a1a1a" stroke-width="1.25" stroke-linecap="round"/>
<line x1="360.35" y1="131" x2="346.59" y2="136.58" stroke="#9c2412" stroke-width="1.5"/>
<line x1="360.35" y1="131" x2="346.59" y2="136.58" stroke="#e8432b" stroke-width="0.95"/>
<line x1="360.35" y1="131" x2="345.79" y2="127.98" stroke="#9c2412" stroke-width="1.5"/>
<line x1="360.35" y1="131" x2="345.79" y2="127.98" stroke="#e8432b" stroke-width="0.95"/>
<line x1="365.91" y1="100.44" x2="351.66" y2="93.49" stroke="#9c2412" stroke-width="1.5"/>
<line x1="365.91" y1="100.44" x2="351.66" y2="93.49" stroke="#e8432b" stroke-width="0.95"/>
<line x1="407.62" y1="115.19" x2="367.66" y2="73.99" stroke="#9c2412" stroke-width="1.5"/>
<line x1="407.62" y1="115.19" x2="367.66" y2="73.99" stroke="#e8432b" stroke-width="0.95"/>
<line x1="415.33" y1="111.42" x2="406.52" y2="54.69" stroke="#9c2412" stroke-width="1.5"/>
<line x1="415.33" y1="111.42" x2="406.52" y2="54.69" stroke="#e8432b" stroke-width="0.95"/>
<circle cx="417.5" cy="125.6" r="0.5" fill="#9a9a10"/>
<circle cx="428.92" cy="134.3" r="2.1" fill="#2fa9d3" stroke="#1b5f78" stroke-width="0.4"/>
<circle cx="440.18" cy="108.01" r="2" fill="#f2f200" stroke="#6f6f10" stroke-width="0.4"/>
<circle cx="435.25" cy="148.15" r="2.1" fill="#2fa9d3" stroke="#1b5f78" stroke-width="0.4"/>
<circle cx="405.64" cy="151.74" r="1.8" fill="#e8432b" stroke="#7a1a0c" stroke-width="0.4"/>
<circle cx="435.69" cy="86.58" r="1.7" fill="#e8432b" stroke="#7a1a0c" stroke-width="0.4"/>
<circle cx="459.84" cy="117.83" r="2" fill="#f2f200" stroke="#6f6f10" stroke-width="0.4"/>
<circle cx="426.28" cy="68.88" r="1" fill="#e8432b" stroke="#7a1a0c" stroke-width="0.4"/>
<circle cx="440.11" cy="72.84" r="1.8" fill="#e8432b" stroke="#7a1a0c" stroke-width="0.4"/>
<circle cx="454.85" cy="82.02" r="1.5" fill="#f2f200" stroke="#6f6f10" stroke-width="0.4"/>
<circle cx="428.6" cy="54.71" r="1.3" fill="#e8432b" stroke="#7a1a0c" stroke-width="0.4"/>
<circle cx="445.53" cy="59.55" r="1.8" fill="#e8432b" stroke="#7a1a0c" stroke-width="0.4"/>
<circle cx="460.88" cy="68.45" r="1.1" fill="#e8432b" stroke="#7a1a0c" stroke-width="0.4"/>
<circle cx="467.52" cy="74.16" r="1.4" fill="#e8432b" stroke="#7a1a0c" stroke-width="0.4"/>
<circle cx="473.94" cy="115.14" r="2.2" fill="#f2f200" stroke="#6f6f10" stroke-width="0.4"/>
<circle cx="478.55" cy="87.9" r="1.1" fill="#2fa9d3" stroke="#1b5f78" stroke-width="0.4"/>
<circle cx="482.63" cy="95.5" r="1.4" fill="#e8432b" stroke="#7a1a0c" stroke-width="0.4"/>
<circle cx="485.85" cy="103.79" r="1.4" fill="#e8432b" stroke="#7a1a0c" stroke-width="0.4"/>
<circle cx="488.03" cy="112.4" r="1.7" fill="#e8432b" stroke="#7a1a0c" stroke-width="0.4"/>
<circle cx="489.12" cy="121.22" r="1.4" fill="#e8432b" stroke="#7a1a0c" stroke-width="0.4"/>
<circle cx="489.11" cy="130.11" r="1.4" fill="#e8432b" stroke="#7a1a0c" stroke-width="0.4"/>
<circle cx="488.03" cy="138.8" r="1.4" fill="#e8432b" stroke="#7a1a0c" stroke-width="0.4"/>
<circle cx="454.17" cy="148.16" r="2" fill="#f2f200" stroke="#6f6f10" stroke-width="0.4"/>
<circle cx="466.55" cy="155.42" r="2" fill="#f2f200" stroke="#6f6f10" stroke-width="0.4"/>
<circle cx="482.79" cy="155.35" r="1.8" fill="#e8432b" stroke="#7a1a0c" stroke-width="0.4"/>
<circle cx="478.55" cy="163.3" r="1.8" fill="#e8432b" stroke="#7a1a0c" stroke-width="0.4"/>
<circle cx="473.65" cy="170.27" r="1.8" fill="#e8432b" stroke="#7a1a0c" stroke-width="0.4"/>
<circle cx="430.66" cy="166.59" r="2" fill="#2fa9d3" stroke="#1b5f78" stroke-width="0.4"/>
<circle cx="449.68" cy="173.13" r="2" fill="#2fa9d3" stroke="#1b5f78" stroke-width="0.4"/>
<circle cx="433.32" cy="180.78" r="1.8" fill="#2fa9d3" stroke="#1b5f78" stroke-width="0.4"/>
<circle cx="419.3" cy="182.97" r="1.6" fill="#2fa9d3" stroke="#1b5f78" stroke-width="0.4"/>
<circle cx="461.08" cy="182.6" r="1.3" fill="#2fa9d3" stroke="#1b5f78" stroke-width="0.4"/>
<circle cx="453.27" cy="187.8" r="2.1" fill="#2fa9d3" stroke="#1b5f78" stroke-width="0.4"/>
<circle cx="437.52" cy="194.5" r="1.9" fill="#2fa9d3" stroke="#1b5f78" stroke-width="0.4"/>
<circle cx="419.75" cy="197.31" r="1.7" fill="#2fa9d3" stroke="#1b5f78" stroke-width="0.4"/>
<circle cx="405.85" cy="167.04" r="1.9" fill="#e8432b" stroke="#7a1a0c" stroke-width="0.4"/>
<circle cx="393.68" cy="161.46" r="1.6" fill="#e8432b" stroke="#7a1a0c" stroke-width="0.4"/>
<circle cx="401.87" cy="180.83" r="1.6" fill="#f2f200" stroke="#6f6f10" stroke-width="0.4"/>
<circle cx="385.82" cy="173.47" r="1.2" fill="#e8432b" stroke="#7a1a0c" stroke-width="0.4"/>
<circle cx="397.72" cy="194.57" r="1.1" fill="#e8432b" stroke="#7a1a0c" stroke-width="0.4"/>
<circle cx="378" cy="185.5" r="1.5" fill="#e8432b" stroke="#7a1a0c" stroke-width="0.4"/>
<circle cx="405.01" cy="132.67" r="2.2" fill="#e8432b" stroke="#7a1a0c" stroke-width="0.4"/>
<circle cx="392.52" cy="139.73" r="1.8" fill="#f2f200" stroke="#6f6f10" stroke-width="0.4"/>
<circle cx="380.18" cy="147.06" r="1.8" fill="#f2f200" stroke="#6f6f10" stroke-width="0.4"/>
<circle cx="371.66" cy="160.14" r="1.6" fill="#f2f200" stroke="#6f6f10" stroke-width="0.4"/>
<circle cx="364.7" cy="148.12" r="1" fill="#e8432b" stroke="#7a1a0c" stroke-width="0.4"/>
<circle cx="360.2" cy="168.78" r="1.5" fill="#e8432b" stroke="#7a1a0c" stroke-width="0.4"/>
<circle cx="351.55" cy="153.87" r="1.2" fill="#e8432b" stroke="#7a1a0c" stroke-width="0.4"/>
<circle cx="403.43" cy="122.79" r="2.2" fill="#e8432b" stroke="#7a1a0c" stroke-width="0.4"/>
<circle cx="389.39" cy="119.83" r="2" fill="#e8432b" stroke="#7a1a0c" stroke-width="0.4"/>
<circle cx="375.39" cy="116.65" r="2" fill="#e8432b" stroke="#7a1a0c" stroke-width="0.4"/>
<circle cx="360.35" cy="131" r="2.2" fill="#e8432b" stroke="#7a1a0c" stroke-width="0.4"/>
<circle cx="361.42" cy="113.37" r="1.8" fill="#e8432b" stroke="#7a1a0c" stroke-width="0.4"/>
<circle cx="365.91" cy="100.44" r="0.5" fill="#e8432b" stroke="#7a1a0c" stroke-width="0.4"/>
<circle cx="346.59" cy="136.58" r="1.7" fill="#e8432b" stroke="#7a1a0c" stroke-width="0.4"/>
<circle cx="345.79" cy="127.98" r="1.7" fill="#e8432b" stroke="#7a1a0c" stroke-width="0.4"/>
<circle cx="347.45" cy="110.07" r="2" fill="#e8432b" stroke="#7a1a0c" stroke-width="0.4"/>
<circle cx="407.62" cy="115.19" r="1.9" fill="#e8432b" stroke="#7a1a0c" stroke-width="0.4"/>
<circle cx="397.56" cy="104.95" r="1.8" fill="#e8432b" stroke="#7a1a0c" stroke-width="0.4"/>
<circle cx="387.49" cy="94.74" r="1.8" fill="#e8432b" stroke="#7a1a0c" stroke-width="0.4"/>
<circle cx="377.63" cy="84.31" r="1.8" fill="#e8432b" stroke="#7a1a0c" stroke-width="0.4"/>
<circle cx="367.66" cy="73.99" r="1.8" fill="#e8432b" stroke="#7a1a0c" stroke-width="0.4"/>
<circle cx="415.33" cy="111.42" r="1.6" fill="#e8432b" stroke="#7a1a0c" stroke-width="0.4"/>
<circle cx="413.16" cy="97.23" r="1.5" fill="#e8432b" stroke="#7a1a0c" stroke-width="0.4"/>
<circle cx="410.91" cy="83.06" r="1.5" fill="#e8432b" stroke="#7a1a0c" stroke-width="0.4"/>
<circle cx="408.72" cy="68.88" r="1.5" fill="#e8432b" stroke="#7a1a0c" stroke-width="0.4"/>
<circle cx="406.52" cy="54.69" r="1.5" fill="#e8432b" stroke="#7a1a0c" stroke-width="0.4"/>
<text x="429.17" y="51.06" font-size="2.69" text-anchor="middle" fill="#000" stroke="#000" stroke-width="0.13" transform="rotate(-81.1 429.17 51.06)" dominant-baseline="central">x1</text>
<text x="446.98" y="56.15" font-size="2.69" text-anchor="middle" fill="#000" stroke="#000" stroke-width="0.13" transform="rotate(-67 446.98 56.15)" dominant-baseline="central">p1</text>
<text x="463.12" y="65.5" font-size="2.69" text-anchor="middle" fill="#000" stroke="#000" stroke-width="0.13" transform="rotate(-52.8 463.12 65.5)" dominant-baseline="central">j1</text>
<text x="470.1" y="71.51" font-size="2.69" text-anchor="middle" fill="#000" stroke="#000" stroke-width="0.13" transform="rotate(-45.8 470.1 71.51)" dominant-baseline="central">k1</text>
<text x="481.69" y="85.95" font-size="2.69" text-anchor="middle" fill="#000" stroke="#000" stroke-width="0.13" transform="rotate(-31.7 481.69 85.95)" dominant-baseline="central">d2</text>
<text x="485.99" y="93.95" font-size="2.69" text-anchor="middle" fill="#000" stroke="#000" stroke-width="0.13" transform="rotate(-24.8 485.99 93.95)" dominant-baseline="central">e1</text>
<text x="489.38" y="102.66" font-size="2.69" text-anchor="middle" fill="#000" stroke="#000" stroke-width="0.13" transform="rotate(-17.7 489.38 102.66)" dominant-baseline="central">m1</text>
<text x="491.66" y="111.72" font-size="2.69" text-anchor="middle" fill="#000" stroke="#000" stroke-width="0.13" transform="rotate(-10.6 491.66 111.72)" dominant-baseline="central">e2</text>
<text x="492.81" y="120.99" font-size="2.69" text-anchor="middle" fill="#000" stroke="#000" stroke-width="0.13" transform="rotate(-3.5 492.81 120.99)" dominant-baseline="central">s1</text>
<text x="492.8" y="130.34" font-size="2.69" text-anchor="middle" fill="#000" stroke="#000" stroke-width="0.13" transform="rotate(3.6 492.8 130.34)" dominant-baseline="central">u1</text>
<text x="491.66" y="139.48" font-size="2.69" text-anchor="middle" fill="#000" stroke="#000" stroke-width="0.13" transform="rotate(10.6 491.66 139.48)" dominant-baseline="central">t1</text>
<text x="486.16" y="156.89" font-size="2.69" text-anchor="middle" fill="#000" stroke="#000" stroke-width="0.13" transform="rotate(24.5 486.16 156.89)" dominant-baseline="central">g1</text>
<text x="481.69" y="165.25" font-size="2.69" text-anchor="middle" fill="#000" stroke="#000" stroke-width="0.13" transform="rotate(31.7 481.69 165.25)" dominant-baseline="central">n1</text>
<text x="476.55" y="172.57" font-size="2.69" text-anchor="middle" fill="#000" stroke="#000" stroke-width="0.13" transform="rotate(38.5 476.55 172.57)" dominant-baseline="central">q1</text>
<text x="463.33" y="185.54" font-size="2.69" text-anchor="middle" fill="#000" stroke="#000" stroke-width="0.13" transform="rotate(52.6 463.33 185.54)" dominant-baseline="central">o1</text>
<text x="455.11" y="191.01" font-size="2.69" text-anchor="middle" fill="#000" stroke="#000" stroke-width="0.13" transform="rotate(60.1 455.11 191.01)" dominant-baseline="central">v1</text>
<text x="438.55" y="198.05" font-size="2.69" text-anchor="middle" fill="#000" stroke="#000" stroke-width="0.13" transform="rotate(73.8 438.55 198.05)" dominant-baseline="central">w1</text>
<text x="419.87" y="201.01" font-size="2.69" text-anchor="middle" fill="#000" stroke="#000" stroke-width="0.13" transform="rotate(88.2 419.87 201.01)" dominant-baseline="central">c2</text>
<text x="396.7" y="198.13" font-size="2.69" text-anchor="middle" fill="#000" stroke="#000" stroke-width="0.13" transform="rotate(286 396.7 198.13)" dominant-baseline="central">a2</text>
<text x="375.97" y="188.59" font-size="2.69" text-anchor="middle" fill="#000" stroke="#000" stroke-width="0.13" transform="rotate(303.4 375.97 188.59)" dominant-baseline="central">f1</text>
<text x="357.24" y="171.01" font-size="2.69" text-anchor="middle" fill="#000" stroke="#000" stroke-width="0.13" transform="rotate(323 357.24 171.01)" dominant-baseline="central">l1</text>
<text x="348.15" y="155.32" font-size="2.69" text-anchor="middle" fill="#000" stroke="#000" stroke-width="0.13" transform="rotate(336.8 348.15 155.32)" dominant-baseline="central">d1</text>
<text x="342.94" y="137.14" font-size="2.69" text-anchor="middle" fill="#000" stroke="#000" stroke-width="0.13" transform="rotate(351.2 342.94 137.14)" dominant-baseline="central">h1</text>
<text x="342.09" y="128.1" font-size="2.69" text-anchor="middle" fill="#000" stroke="#000" stroke-width="0.13" transform="rotate(358.1 342.09 128.1)" dominant-baseline="central">b2</text>
<text x="343.84" y="109.27" font-size="2.69" text-anchor="middle" fill="#000" stroke="#000" stroke-width="0.13" transform="rotate(372.5 343.84 109.27)" dominant-baseline="central">i1</text>
<text x="349.69" y="92.52" font-size="2.69" text-anchor="middle" fill="#000" stroke="#000" stroke-width="0.13" transform="rotate(386 349.69 92.52)" dominant-baseline="central">y1</text>
<text x="365.09" y="71.33" font-size="2.69" text-anchor="middle" fill="#000" stroke="#000" stroke-width="0.13" transform="rotate(406 365.09 71.33)" dominant-baseline="central">r1</text>
<text x="405.96" y="51.04" font-size="2.69" text-anchor="middle" fill="#000" stroke="#000" stroke-width="0.13" transform="rotate(441.2 405.96 51.04)" dominant-baseline="central">z1</text>
<text x="429.92" y="46.27" font-size="2.46" text-anchor="middle" fill="#000" stroke="#000" stroke-width="0.12" transform="rotate(-81.1 429.92 46.27)" dominant-baseline="central">z</text>
<text x="448.88" y="51.68" font-size="2.46" text-anchor="middle" fill="#000" stroke="#000" stroke-width="0.12" transform="rotate(-67 448.88 51.68)" dominant-baseline="central">u</text>
<text x="462.52" y="192.09" font-size="2.46" text-anchor="middle" fill="#000" stroke="#000" stroke-width="0.12" transform="rotate(55.9 462.52 192.09)" dominant-baseline="central">v</text>
<text x="439.63" y="202.79" font-size="2.46" text-anchor="middle" fill="#000" stroke="#000" stroke-width="0.12" transform="rotate(74 439.63 202.79)" dominant-baseline="central">x</text>
<text x="420.02" y="205.86" font-size="2.46" text-anchor="middle" fill="#000" stroke="#000" stroke-width="0.12" transform="rotate(88.2 420.02 205.86)" dominant-baseline="central">a1</text>
<text x="373.18" y="192.56" font-size="2.46" text-anchor="middle" fill="#000" stroke="#000" stroke-width="0.12" transform="rotate(303.5 373.18 192.56)" dominant-baseline="central">r</text>
<text x="343.69" y="157.23" font-size="2.46" text-anchor="middle" fill="#000" stroke="#000" stroke-width="0.12" transform="rotate(336.8 343.69 157.23)" dominant-baseline="central">s</text>
<text x="337.56" y="133.16" font-size="2.46" text-anchor="middle" fill="#000" stroke="#000" stroke-width="0.12" transform="rotate(354.6 337.56 133.16)" dominant-baseline="central">y</text>
<text x="339.07" y="108.36" font-size="2.46" text-anchor="middle" fill="#000" stroke="#000" stroke-width="0.12" transform="rotate(372.4 339.07 108.36)" dominant-baseline="central">t</text>
<text x="345.33" y="90.4" font-size="2.46" text-anchor="middle" fill="#000" stroke="#000" stroke-width="0.12" transform="rotate(386 345.33 90.4)" dominant-baseline="central">c1</text>
<text x="361.72" y="67.84" font-size="2.46" text-anchor="middle" fill="#000" stroke="#000" stroke-width="0.12" transform="rotate(406 361.72 67.84)" dominant-baseline="central">w</text>
<text x="405.22" y="46.25" font-size="2.46" text-anchor="middle" fill="#000" stroke="#000" stroke-width="0.12" transform="rotate(441.2 405.22 46.25)" dominant-baseline="central">b1</text>
<text x="453.74" y="47.88" font-size="2.46" text-anchor="middle" fill="#000" stroke="#000" stroke-width="0.12" transform="rotate(-65 453.74 47.88)" dominant-baseline="central">p</text>
<text x="446.12" y="206.43" font-size="2.46" text-anchor="middle" fill="#000" stroke="#000" stroke-width="0.12" transform="rotate(70.5 446.12 206.43)" dominant-baseline="central">o</text>
<text x="394.15" y="208.11" font-size="2.46" text-anchor="middle" fill="#000" stroke="#000" stroke-width="0.12" transform="rotate(285.8 394.15 208.11)" dominant-baseline="central">k</text>
<text x="370.17" y="197.11" font-size="2.46" text-anchor="middle" fill="#000" stroke="#000" stroke-width="0.12" transform="rotate(303.5 370.17 197.11)" dominant-baseline="central">q</text>
<text x="332.76" y="112.48" font-size="2.46" text-anchor="middle" fill="#000" stroke="#000" stroke-width="0.12" transform="rotate(368.8 332.76 112.48)" dominant-baseline="central">l</text>
<text x="357.93" y="63.92" font-size="2.46" text-anchor="middle" fill="#000" stroke="#000" stroke-width="0.12" transform="rotate(406 357.93 63.92)" dominant-baseline="central">n</text>
<text x="404.38" y="40.86" font-size="2.46" text-anchor="middle" fill="#000" stroke="#000" stroke-width="0.12" transform="rotate(441.2 404.38 40.86)" dominant-baseline="central">m</text>
<text x="468" y="201.6" font-size="2.46" text-anchor="middle" fill="#000" stroke="#000" stroke-width="0.12" transform="rotate(56.4 468 201.6)" dominant-baseline="central">f</text>
<text x="379.37" y="208.5" font-size="2.46" text-anchor="middle" fill="#000" stroke="#000" stroke-width="0.12" transform="rotate(294.7 379.37 208.5)" dominant-baseline="central">j</text>
<text x="327.32" y="111.64" font-size="2.46" text-anchor="middle" fill="#000" stroke="#000" stroke-width="0.12" transform="rotate(368.8 327.32 111.64)" dominant-baseline="central">g</text>
<text x="354.11" y="59.96" font-size="2.46" text-anchor="middle" fill="#000" stroke="#000" stroke-width="0.12" transform="rotate(406 354.11 59.96)" dominant-baseline="central">h</text>
<text x="403.54" y="35.42" font-size="2.46" text-anchor="middle" fill="#000" stroke="#000" stroke-width="0.12" transform="rotate(441.2 403.54 35.42)" dominant-baseline="central">i</text>
<text x="402.87" y="30.01" font-size="3.75" text-anchor="middle" fill="#111" stroke="#111" stroke-width="0.13" transform="rotate(351.3 402.87 30.01)" dominant-baseline="central">p__Proteobacteria</text>
<text x="350.59" y="55.09" font-size="3.75" text-anchor="middle" fill="#111" stroke="#111" stroke-width="0.13" transform="rotate(316.5 350.59 55.09)" dominant-baseline="central">p__Fusobacteriota</text>
<text x="321.57" y="111.95" font-size="3.75" text-anchor="middle" fill="#111" stroke="#111" stroke-width="0.13" transform="rotate(278.1 321.57 111.95)" dominant-baseline="central">p__Bacteroidota</text>
<text x="333.41" y="173.76" font-size="3.75" text-anchor="middle" fill="#111" stroke="#111" stroke-width="0.13" transform="rotate(240.2 333.41 173.76)" dominant-baseline="central">p__Actinobacteriota</text>
<text x="507.5" y="160.15" font-size="3.75" text-anchor="middle" fill="#111" stroke="#111" stroke-width="0.13" transform="rotate(111 507.5 160.15)" dominant-baseline="central">p__Firmicutes</text>
<circle cx="538.6" cy="25" r="1.9" fill="#e8432b" stroke="#7a1a0c" stroke-width="0.3"/>
<text x="541.4" y="26.2" font-size="3.3" fill="#000" stroke="#000" stroke-width="0.08">N_a</text>
<circle cx="538.6" cy="31.1" r="1.9" fill="#2fa9d3" stroke="#1b5f78" stroke-width="0.3"/>
<text x="541.4" y="32.3" font-size="3.3" fill="#000" stroke="#000" stroke-width="0.08">N_c</text>
<rect x="536.8" y="39.2" width="4.1" height="1.4" fill="#e8432b"/>
<text x="544" y="40.95" font-size="3.07" fill="#111" stroke="#111" stroke-width="0.08">a: p__Actinobacteriota</text>
<rect x="536.8" y="44.97" width="4.1" height="1.4" fill="#2fa9d3"/>
<text x="544" y="46.72" font-size="3.07" fill="#111" stroke="#111" stroke-width="0.08">c: p__Firmicutes</text>
<rect x="536.8" y="50.75" width="4.1" height="1.4" fill="#e8432b"/>
<text x="544" y="52.5" font-size="3.07" fill="#111" stroke="#111" stroke-width="0.08">e: p__Proteobacteria</text>
<rect x="536.8" y="56.52" width="4.1" height="1.4" fill="#e8432b"/>
<text x="544" y="58.27" font-size="3.07" fill="#111" stroke="#111" stroke-width="0.08">g: c__Bacteroidia</text>
<rect x="536.8" y="62.3" width="4.1" height="1.4" fill="#e8432b"/>
<text x="544" y="64.05" font-size="3.07" fill="#111" stroke="#111" stroke-width="0.08">i: c__Gammaproteobacteria</text>
<rect x="536.8" y="68.08" width="4.1" height="1.4" fill="#e8432b"/>
<text x="544" y="69.83" font-size="3.07" fill="#111" stroke="#111" stroke-width="0.08">k: o__Acidaminococcales</text>
<rect x="536.8" y="73.85" width="4.1" height="1.4" fill="#e8432b"/>
<text x="544" y="75.6" font-size="3.07" fill="#111" stroke="#111" stroke-width="0.08">m: o__Burkholderiales</text>
<rect x="536.8" y="79.62" width="4.1" height="1.4" fill="#2fa9d3"/>
<text x="544" y="81.38" font-size="3.07" fill="#111" stroke="#111" stroke-width="0.08">o: o__Lactobacillales</text>
<rect x="536.8" y="85.4" width="4.1" height="1.4" fill="#e8432b"/>
<text x="544" y="87.15" font-size="3.07" fill="#111" stroke="#111" stroke-width="0.08">q: o__Veillonellales-Selenomonadales</text>
<rect x="536.8" y="91.17" width="4.1" height="1.4" fill="#e8432b"/>
<text x="544" y="92.92" font-size="3.07" fill="#111" stroke="#111" stroke-width="0.08">s: f__Atopobiaceae</text>
<rect x="536.8" y="96.95" width="4.1" height="1.4" fill="#e8432b"/>
<text x="544" y="98.7" font-size="3.07" fill="#111" stroke="#111" stroke-width="0.08">u: f__Butyricicoccaceae</text>
<rect x="536.8" y="102.73" width="4.1" height="1.4" fill="#e8432b"/>
<text x="544" y="104.48" font-size="3.07" fill="#111" stroke="#111" stroke-width="0.08">w: f__Fusobacteriaceae</text>
<rect x="536.8" y="108.5" width="4.1" height="1.4" fill="#e8432b"/>
<text x="544" y="110.25" font-size="3.07" fill="#111" stroke="#111" stroke-width="0.08">y: f__Prevotellaceae</text>
<rect x="536.8" y="114.27" width="4.1" height="1.4" fill="#2fa9d3"/>
<text x="544" y="116.02" font-size="3.07" fill="#111" stroke="#111" stroke-width="0.08">a1: f__Streptococcaceae</text>
<rect x="536.8" y="120.05" width="4.1" height="1.4" fill="#e8432b"/>
<text x="544" y="121.8" font-size="3.07" fill="#111" stroke="#111" stroke-width="0.08">c1: f__Tannerellaceae</text>
<rect x="536.8" y="125.83" width="4.1" height="1.4" fill="#e8432b"/>
<text x="544" y="127.58" font-size="3.07" fill="#111" stroke="#111" stroke-width="0.08">e1: g__Agathobacter</text>
<rect x="536.8" y="131.6" width="4.1" height="1.4" fill="#e8432b"/>
<text x="544" y="133.35" font-size="3.07" fill="#111" stroke="#111" stroke-width="0.08">g1: g__Allobaculum</text>
<rect x="536.8" y="137.38" width="4.1" height="1.4" fill="#e8432b"/>
<text x="544" y="139.13" font-size="3.07" fill="#111" stroke="#111" stroke-width="0.08">i1: g__Bacteroides</text>
<rect x="536.8" y="143.15" width="4.1" height="1.4" fill="#e8432b"/>
<text x="544" y="144.9" font-size="3.07" fill="#111" stroke="#111" stroke-width="0.08">k1: g__Colidextribacter</text>
<rect x="536.8" y="148.93" width="4.1" height="1.4" fill="#e8432b"/>
<text x="544" y="150.68" font-size="3.07" fill="#111" stroke="#111" stroke-width="0.08">m1: g__Dorea</text>
<rect x="536.8" y="154.7" width="4.1" height="1.4" fill="#2fa9d3"/>
<text x="544" y="156.45" font-size="3.07" fill="#111" stroke="#111" stroke-width="0.08">o1: g__Enterococcus</text>
<rect x="536.8" y="160.48" width="4.1" height="1.4" fill="#e8432b"/>
<text x="544" y="162.23" font-size="3.07" fill="#111" stroke="#111" stroke-width="0.08">q1: g__Faecalibaculum</text>
<rect x="536.8" y="166.25" width="4.1" height="1.4" fill="#e8432b"/>
<text x="544" y="168" font-size="3.07" fill="#111" stroke="#111" stroke-width="0.08">s1: g__Howardella</text>
<rect x="536.8" y="172.03" width="4.1" height="1.4" fill="#e8432b"/>
<text x="544" y="173.78" font-size="3.07" fill="#111" stroke="#111" stroke-width="0.08">u1: g__Lachnospiraceae_UCG-004</text>
<rect x="536.8" y="177.8" width="4.1" height="1.4" fill="#2fa9d3"/>
<text x="544" y="179.55" font-size="3.07" fill="#111" stroke="#111" stroke-width="0.08">w1: g__Limosilactobacillus</text>
<rect x="536.8" y="183.58" width="4.1" height="1.4" fill="#e8432b"/>
<text x="544" y="185.33" font-size="3.07" fill="#111" stroke="#111" stroke-width="0.08">y1: g__Parabacteroides</text>
<rect x="536.8" y="189.35" width="4.1" height="1.4" fill="#e8432b"/>
<text x="544" y="191.1" font-size="3.07" fill="#111" stroke="#111" stroke-width="0.08">a2: g__Phascolarctobacterium</text>
<rect x="536.8" y="195.13" width="4.1" height="1.4" fill="#2fa9d3"/>
<text x="544" y="196.88" font-size="3.07" fill="#111" stroke="#111" stroke-width="0.08">c2: g__Streptococcus</text>
<rect x="536.8" y="200.9" width="4.1" height="1.4" fill="#e8432b"/>
<text x="544" y="202.65" font-size="3.07" fill="#111" stroke="#111" stroke-width="0.08">e2: g__[Ruminococcus]_gnavus_group</text>
<rect x="604.7" y="39.2" width="4.1" height="1.4" fill="#e8432b"/>
<text x="611.4" y="40.95" font-size="3.07" fill="#111" stroke="#111" stroke-width="0.08">b: p__Bacteroidota</text>
<rect x="604.7" y="44.97" width="4.1" height="1.4" fill="#e8432b"/>
<text x="611.4" y="46.72" font-size="3.07" fill="#111" stroke="#111" stroke-width="0.08">d: p__Fusobacteriota</text>
<rect x="604.7" y="50.75" width="4.1" height="1.4" fill="#2fa9d3"/>
<text x="611.4" y="52.5" font-size="3.07" fill="#111" stroke="#111" stroke-width="0.08">f: c__Bacilli</text>
<rect x="604.7" y="56.52" width="4.1" height="1.4" fill="#e8432b"/>
<text x="611.4" y="58.27" font-size="3.07" fill="#111" stroke="#111" stroke-width="0.08">h: c__Fusobacteriia</text>
<rect x="604.7" y="62.3" width="4.1" height="1.4" fill="#e8432b"/>
<text x="611.4" y="64.05" font-size="3.07" fill="#111" stroke="#111" stroke-width="0.08">j: c__Negativicutes</text>
<rect x="604.7" y="68.08" width="4.1" height="1.4" fill="#e8432b"/>
<text x="611.4" y="69.83" font-size="3.07" fill="#111" stroke="#111" stroke-width="0.08">l: o__Bacteroidales</text>
<rect x="604.7" y="73.85" width="4.1" height="1.4" fill="#e8432b"/>
<text x="611.4" y="75.6" font-size="3.07" fill="#111" stroke="#111" stroke-width="0.08">n: o__Fusobacteriales</text>
<rect x="604.7" y="79.62" width="4.1" height="1.4" fill="#e8432b"/>
<text x="611.4" y="81.38" font-size="3.07" fill="#111" stroke="#111" stroke-width="0.08">p: o__Oscillospirales</text>
<rect x="604.7" y="85.4" width="4.1" height="1.4" fill="#e8432b"/>
<text x="611.4" y="87.15" font-size="3.07" fill="#111" stroke="#111" stroke-width="0.08">r: f__Acidaminococcaceae</text>
<rect x="604.7" y="91.17" width="4.1" height="1.4" fill="#e8432b"/>
<text x="611.4" y="92.92" font-size="3.07" fill="#111" stroke="#111" stroke-width="0.08">t: f__Bacteroidaceae</text>
<rect x="604.7" y="96.95" width="4.1" height="1.4" fill="#2fa9d3"/>
<text x="611.4" y="98.7" font-size="3.07" fill="#111" stroke="#111" stroke-width="0.08">v: f__Enterococcaceae</text>
<rect x="604.7" y="102.73" width="4.1" height="1.4" fill="#2fa9d3"/>
<text x="611.4" y="104.48" font-size="3.07" fill="#111" stroke="#111" stroke-width="0.08">x: f__Lactobacillaceae</text>
<rect x="604.7" y="108.5" width="4.1" height="1.4" fill="#e8432b"/>
<text x="611.4" y="110.25" font-size="3.07" fill="#111" stroke="#111" stroke-width="0.08">z: f__Ruminococcaceae</text>
<rect x="604.7" y="114.27" width="4.1" height="1.4" fill="#e8432b"/>
<text x="611.4" y="116.02" font-size="3.07" fill="#111" stroke="#111" stroke-width="0.08">b1: f__Sutterellaceae</text>
<rect x="604.7" y="120.05" width="4.1" height="1.4" fill="#e8432b"/>
<text x="611.4" y="121.8" font-size="3.07" fill="#111" stroke="#111" stroke-width="0.08">d1: g__Adlercreutzia</text>
<rect x="604.7" y="125.83" width="4.1" height="1.4" fill="#e8432b"/>
<text x="611.4" y="127.58" font-size="3.07" fill="#111" stroke="#111" stroke-width="0.08">f1: g__Allisonella</text>
<rect x="604.7" y="131.6" width="4.1" height="1.4" fill="#e8432b"/>
<text x="611.4" y="133.35" font-size="3.07" fill="#111" stroke="#111" stroke-width="0.08">h1: g__Alloprevotella</text>
<rect x="604.7" y="137.38" width="4.1" height="1.4" fill="#e8432b"/>
<text x="611.4" y="139.13" font-size="3.07" fill="#111" stroke="#111" stroke-width="0.08">j1: g__Butyricicoccus</text>
<rect x="604.7" y="143.15" width="4.1" height="1.4" fill="#e8432b"/>
<text x="611.4" y="144.9" font-size="3.07" fill="#111" stroke="#111" stroke-width="0.08">l1: g__Coriobacteriaceae_UCG-002</text>
<rect x="604.7" y="148.93" width="4.1" height="1.4" fill="#e8432b"/>
<text x="611.4" y="150.68" font-size="3.07" fill="#111" stroke="#111" stroke-width="0.08">n1: g__Dubosiella</text>
<rect x="604.7" y="154.7" width="4.1" height="1.4" fill="#e8432b"/>
<text x="611.4" y="156.45" font-size="3.07" fill="#111" stroke="#111" stroke-width="0.08">p1: g__Faecalibacterium</text>
<rect x="604.7" y="160.48" width="4.1" height="1.4" fill="#e8432b"/>
<text x="611.4" y="162.23" font-size="3.07" fill="#111" stroke="#111" stroke-width="0.08">r1: g__Fusobacterium</text>
<rect x="604.7" y="166.25" width="4.1" height="1.4" fill="#e8432b"/>
<text x="611.4" y="168" font-size="3.07" fill="#111" stroke="#111" stroke-width="0.08">t1: g__Lachnospiraceae_NK4A136_group</text>
<rect x="604.7" y="172.03" width="4.1" height="1.4" fill="#2fa9d3"/>
<text x="611.4" y="173.78" font-size="3.07" fill="#111" stroke="#111" stroke-width="0.08">v1: g__Ligilactobacillus</text>
<rect x="604.7" y="177.8" width="4.1" height="1.4" fill="#e8432b"/>
<text x="611.4" y="179.55" font-size="3.07" fill="#111" stroke="#111" stroke-width="0.08">x1: g__Oscillospira</text>
<rect x="604.7" y="183.58" width="4.1" height="1.4" fill="#e8432b"/>
<text x="611.4" y="185.33" font-size="3.07" fill="#111" stroke="#111" stroke-width="0.08">z1: g__Parasutterella</text>
<rect x="604.7" y="189.35" width="4.1" height="1.4" fill="#e8432b"/>
<text x="611.4" y="191.1" font-size="3.07" fill="#111" stroke="#111" stroke-width="0.08">b2: g__Prevotella_9</text>
<rect x="604.7" y="195.13" width="4.1" height="1.4" fill="#2fa9d3"/>
<text x="611.4" y="196.88" font-size="3.07" fill="#111" stroke="#111" stroke-width="0.08">d2: g__[Ruminococcus]_gauvreauii_group</text>
</g>
<g id="pc">
<text x="3.8" y="261.2" font-size="13.6" font-weight="bold" fill="#000">c</text>
<text x="154.8" y="266.9" font-size="4.88" font-weight="bold" text-anchor="middle" fill="#000" stroke="#000" stroke-width="0.06">Wilcoxon rank-sum test bar plot on phylum level</text>
<text x="152.6" y="271.1" font-size="3.84" text-anchor="middle" fill="#000" stroke="#000" stroke-width="0.05">95% confidence intervals</text>
<text x="200.3" y="271.1" font-size="3.84" fill="#000" stroke="#000" stroke-width="0.05">P_value</text>
<text x="219.2" y="271.1" font-size="3.84" fill="#000" stroke="#000" stroke-width="0.05">Combine ES</text>
<rect x="33.2" y="275.4" width="74.8" height="13.6" fill="#efefef"/>
<rect x="115.3" y="275.4" width="75" height="13.6" fill="#efefef"/>
<rect x="33.2" y="295.13" width="74.8" height="13.6" fill="#efefef"/>
<rect x="115.3" y="295.13" width="75" height="13.6" fill="#efefef"/>
<rect x="33.2" y="314.86" width="74.8" height="13.6" fill="#efefef"/>
<rect x="115.3" y="314.86" width="75" height="13.6" fill="#efefef"/>
<rect x="33.2" y="334.59" width="74.8" height="13.6" fill="#efefef"/>
<rect x="115.3" y="334.59" width="75" height="13.6" fill="#efefef"/>
<line x1="160.3" y1="272.2" x2="160.3" y2="350.4" stroke="#333" stroke-width="0.4" stroke-dasharray="0.9 0.7"/>
<line x1="230" y1="273" x2="230" y2="350.4" stroke="#a8a8a8" stroke-width="1"/>
<text x="30.8" y="283.51" font-size="3.84" text-anchor="end" fill="#000" stroke="#000" stroke-width="0.05">Firmicutes</text>
<g stroke="#222" stroke-width="0.25">
<line x1="69.78" y1="279.1" x2="79.82" y2="279.1" stroke="#333" stroke-width="0.35"/>
<line x1="79.82" y1="277.5" x2="79.82" y2="280.7" stroke="#333" stroke-width="0.35"/>
<line x1="90.62" y1="285.3" x2="93.75" y2="285.3" stroke="#333" stroke-width="0.35"/>
<line x1="93.75" y1="283.7" x2="93.75" y2="286.9" stroke="#333" stroke-width="0.35"/>
<rect x="33.2" y="276" width="36.58" height="6.2" fill="#2e8b3e"/>
<rect x="33.2" y="282.2" width="57.42" height="6.2" fill="#ee4135"/>
</g>
<line x1="125.46" y1="282.2" x2="144.87" y2="282.2" stroke="#333" stroke-width="0.35"/>
<line x1="125.46" y1="280.6" x2="125.46" y2="283.8" stroke="#333" stroke-width="0.35"/>
<line x1="144.87" y1="280.6" x2="144.87" y2="283.8" stroke="#333" stroke-width="0.35"/>
<circle cx="135.62" cy="282.2" r="1.55" fill="#ee4135" stroke="#333" stroke-width="0.25"/>
<text x="195.2" y="285.01" font-size="3.46" font-weight="bold" text-anchor="middle" fill="#ff2020" stroke="#ff2020" stroke-width="0.09">**</text>
<text x="200.3" y="284.28" font-size="3.34" fill="#000" stroke="#000" stroke-width="0.08">0.008113</text>
<line x1="230" y1="282.2" x2="217.47" y2="282.2" stroke="#333" stroke-width="0.35"/>
<path d="M215.97 282.2L217.47 280.7L218.97 282.2L217.47 283.7Z" fill="#ee4135" stroke="#333" stroke-width="0.3"/>
<text x="30.8" y="303.24" font-size="3.84" text-anchor="end" fill="#000" stroke="#000" stroke-width="0.05">Bacteroidota</text>
<g stroke="#222" stroke-width="0.25">
<line x1="42.11" y1="298.83" x2="54.66" y2="298.83" stroke="#333" stroke-width="0.35"/>
<line x1="54.66" y1="297.23" x2="54.66" y2="300.43" stroke="#333" stroke-width="0.35"/>
<line x1="33.83" y1="305.03" x2="34.2" y2="305.03" stroke="#333" stroke-width="0.35"/>
<line x1="34.2" y1="303.43" x2="34.2" y2="306.63" stroke="#333" stroke-width="0.35"/>
<rect x="33.2" y="295.73" width="8.91" height="6.2" fill="#2e8b3e"/>
<rect x="33.2" y="301.93" width="0.63" height="6.2" fill="#ee4135"/>
</g>
<line x1="162.63" y1="301.93" x2="182.8" y2="301.93" stroke="#333" stroke-width="0.35"/>
<line x1="162.63" y1="300.33" x2="162.63" y2="303.53" stroke="#333" stroke-width="0.35"/>
<line x1="182.8" y1="300.33" x2="182.8" y2="303.53" stroke="#333" stroke-width="0.35"/>
<circle cx="170.38" cy="301.93" r="1.55" fill="#2e8b3e" stroke="#333" stroke-width="0.25"/>
<text x="195.2" y="304.74" font-size="3.46" font-weight="bold" text-anchor="middle" fill="#ff2020" stroke="#ff2020" stroke-width="0.09">*</text>
<text x="200.3" y="304.01" font-size="3.34" fill="#000" stroke="#000" stroke-width="0.08">0.01571</text>
<line x1="230" y1="301.93" x2="235.16" y2="301.93" stroke="#333" stroke-width="0.35"/>
<path d="M233.66 301.93L235.16 300.43L236.66 301.93L235.16 303.43Z" fill="#2e8b3e" stroke="#333" stroke-width="0.3"/>
<text x="30.8" y="322.97" font-size="3.84" text-anchor="end" fill="#000" stroke="#000" stroke-width="0.05">Fusobacteriota</text>
<g stroke="#222" stroke-width="0.25">
<line x1="39.91" y1="318.56" x2="44.18" y2="318.56" stroke="#333" stroke-width="0.35"/>
<line x1="44.18" y1="316.96" x2="44.18" y2="320.16" stroke="#333" stroke-width="0.35"/>
<line x1="34.2" y1="324.76" x2="35.15" y2="324.76" stroke="#333" stroke-width="0.35"/>
<line x1="35.15" y1="323.16" x2="35.15" y2="326.36" stroke="#333" stroke-width="0.35"/>
<rect x="33.2" y="315.46" width="6.71" height="6.2" fill="#2e8b3e"/>
<rect x="33.2" y="321.66" width="1" height="6.2" fill="#ee4135"/>
</g>
<line x1="164.59" y1="321.66" x2="172.19" y2="321.66" stroke="#333" stroke-width="0.35"/>
<line x1="164.59" y1="320.06" x2="164.59" y2="323.26" stroke="#333" stroke-width="0.35"/>
<line x1="172.19" y1="320.06" x2="172.19" y2="323.26" stroke="#333" stroke-width="0.35"/>
<circle cx="167.37" cy="321.66" r="1.55" fill="#2e8b3e" stroke="#333" stroke-width="0.25"/>
<text x="195.2" y="324.47" font-size="3.46" font-weight="bold" text-anchor="middle" fill="#ff2020" stroke="#ff2020" stroke-width="0.09">*</text>
<text x="200.3" y="323.74" font-size="3.34" fill="#000" stroke="#000" stroke-width="0.08">0.01571</text>
<line x1="230" y1="321.66" x2="233.37" y2="321.66" stroke="#333" stroke-width="0.35"/>
<path d="M231.87 321.66L233.37 320.16L234.87 321.66L233.37 323.16Z" fill="#2e8b3e" stroke="#333" stroke-width="0.3"/>
<text x="30.8" y="342.7" font-size="3.84" text-anchor="end" fill="#000" stroke="#000" stroke-width="0.05">Proteobacteria</text>
<g stroke="#222" stroke-width="0.25">
<line x1="35.21" y1="338.29" x2="36.09" y2="338.29" stroke="#333" stroke-width="0.35"/>
<line x1="36.09" y1="336.69" x2="36.09" y2="339.89" stroke="#333" stroke-width="0.35"/>
<line x1="33.45" y1="344.49" x2="33.64" y2="344.49" stroke="#333" stroke-width="0.35"/>
<line x1="33.64" y1="342.89" x2="33.64" y2="346.09" stroke="#333" stroke-width="0.35"/>
<rect x="33.2" y="335.19" width="2.01" height="6.2" fill="#2e8b3e"/>
<rect x="33.2" y="341.39" width="0.25" height="6.2" fill="#ee4135"/>
</g>
<line x1="161.05" y1="341.39" x2="162.86" y2="341.39" stroke="#333" stroke-width="0.35"/>
<line x1="161.05" y1="339.79" x2="161.05" y2="342.99" stroke="#333" stroke-width="0.35"/>
<line x1="162.86" y1="339.79" x2="162.86" y2="342.99" stroke="#333" stroke-width="0.35"/>
<circle cx="161.96" cy="341.39" r="1.55" fill="#2e8b3e" stroke="#333" stroke-width="0.25"/>
<text x="195.2" y="344.2" font-size="3.46" font-weight="bold" text-anchor="middle" fill="#ff2020" stroke="#ff2020" stroke-width="0.09">**</text>
<text x="200.3" y="343.47" font-size="3.34" fill="#000" stroke="#000" stroke-width="0.08">0.008113</text>
<line x1="230" y1="341.39" x2="230.82" y2="341.39" stroke="#333" stroke-width="0.35"/>
<path d="M229.32 341.39L230.82 339.89L232.32 341.39L230.82 342.89Z" fill="#2e8b3e" stroke="#333" stroke-width="0.3"/>
<line x1="33.2" y1="350.4" x2="108.5" y2="350.4" stroke="#222" stroke-width="0.4"/>
<line x1="33.2" y1="350.4" x2="33.2" y2="351.7" stroke="#222" stroke-width="0.35"/>
<text x="33.2" y="356.1" font-size="3.65" text-anchor="middle" fill="#000" stroke="#000" stroke-width="0.04">0</text>
<line x1="45.75" y1="350.4" x2="45.75" y2="351.7" stroke="#222" stroke-width="0.35"/>
<text x="45.75" y="356.1" font-size="3.65" text-anchor="middle" fill="#000" stroke="#000" stroke-width="0.04">20</text>
<line x1="58.3" y1="350.4" x2="58.3" y2="351.7" stroke="#222" stroke-width="0.35"/>
<text x="58.3" y="356.1" font-size="3.65" text-anchor="middle" fill="#000" stroke="#000" stroke-width="0.04">40</text>
<line x1="70.85" y1="350.4" x2="70.85" y2="351.7" stroke="#222" stroke-width="0.35"/>
<text x="70.85" y="356.1" font-size="3.65" text-anchor="middle" fill="#000" stroke="#000" stroke-width="0.04">60</text>
<line x1="83.4" y1="350.4" x2="83.4" y2="351.7" stroke="#222" stroke-width="0.35"/>
<text x="83.4" y="356.1" font-size="3.65" text-anchor="middle" fill="#000" stroke="#000" stroke-width="0.04">80</text>
<line x1="95.95" y1="350.4" x2="95.95" y2="351.7" stroke="#222" stroke-width="0.35"/>
<text x="95.95" y="356.1" font-size="3.65" text-anchor="middle" fill="#000" stroke="#000" stroke-width="0.04">100</text>
<line x1="108.5" y1="350.4" x2="108.5" y2="351.7" stroke="#222" stroke-width="0.35"/>
<text x="108.5" y="356.1" font-size="3.65" text-anchor="middle" fill="#000" stroke="#000" stroke-width="0.04">120</text>
<line x1="115.15" y1="350.4" x2="190.4" y2="350.4" stroke="#222" stroke-width="0.4"/>
<line x1="115.15" y1="350.4" x2="115.15" y2="351.7" stroke="#222" stroke-width="0.35"/>
<text x="115.15" y="356.1" font-size="3.65" text-anchor="middle" fill="#000" stroke="#000" stroke-width="0.04">-60</text>
<line x1="130.2" y1="350.4" x2="130.2" y2="351.7" stroke="#222" stroke-width="0.35"/>
<text x="130.2" y="356.1" font-size="3.65" text-anchor="middle" fill="#000" stroke="#000" stroke-width="0.04">-40</text>
<line x1="145.25" y1="350.4" x2="145.25" y2="351.7" stroke="#222" stroke-width="0.35"/>
<text x="145.25" y="356.1" font-size="3.65" text-anchor="middle" fill="#000" stroke="#000" stroke-width="0.04">-20</text>
<line x1="160.3" y1="350.4" x2="160.3" y2="351.7" stroke="#222" stroke-width="0.35"/>
<text x="160.3" y="356.1" font-size="3.65" text-anchor="middle" fill="#000" stroke="#000" stroke-width="0.04">0</text>
<line x1="175.35" y1="350.4" x2="175.35" y2="351.7" stroke="#222" stroke-width="0.35"/>
<text x="175.35" y="356.1" font-size="3.65" text-anchor="middle" fill="#000" stroke="#000" stroke-width="0.04">20</text>
<line x1="190.4" y1="350.4" x2="190.4" y2="351.7" stroke="#222" stroke-width="0.35"/>
<text x="190.4" y="356.1" font-size="3.65" text-anchor="middle" fill="#000" stroke="#000" stroke-width="0.04">40</text>
<line x1="211.3" y1="350.4" x2="248.7" y2="350.4" stroke="#222" stroke-width="0.4"/>
<line x1="211.3" y1="350.4" x2="211.3" y2="351.7" stroke="#222" stroke-width="0.35"/>
<text x="211.3" y="357.1" font-size="3.65" text-anchor="middle" fill="#000" stroke="#000" stroke-width="0.04">-50</text>
<line x1="230" y1="350.4" x2="230" y2="351.7" stroke="#222" stroke-width="0.35"/>
<text x="230" y="357.1" font-size="3.65" text-anchor="middle" fill="#000" stroke="#000" stroke-width="0.04">0</text>
<line x1="248.7" y1="350.4" x2="248.7" y2="351.7" stroke="#222" stroke-width="0.35"/>
<text x="248.7" y="357.1" font-size="3.65" text-anchor="middle" fill="#000" stroke="#000" stroke-width="0.04">50</text>
<text x="70.8" y="363.2" font-size="3.84" font-weight="bold" text-anchor="middle" fill="#000" stroke="#000" stroke-width="0.05">Proportions(%)</text>
<text x="153" y="363.2" font-size="3.84" font-weight="bold" text-anchor="middle" fill="#000" stroke="#000" stroke-width="0.05">Difference between proportions(%)</text>
<rect x="303.9" y="269.2" width="3.4" height="3.5" fill="#2e8b3e"/>
<text x="308.2" y="272.15" font-size="3.38" fill="#000" stroke="#000" stroke-width="0.08">N_a</text>
<rect x="303.9" y="275.8" width="3.4" height="3.5" fill="#ee4135"/>
<text x="308.2" y="278.75" font-size="3.38" fill="#000" stroke="#000" stroke-width="0.08">N_c</text>
</g>
<g id="pd">
<text x="353.6" y="260.1" font-size="13.6" font-weight="bold" fill="#000">d</text>
<text x="515.6" y="266.5" font-size="5.26" font-weight="bold" text-anchor="middle" fill="#000" stroke="#000" stroke-width="0.06">Wilcoxon rank-sum test bar plot on genus level</text>
<text x="530.2" y="271.1" font-size="4.07" text-anchor="middle" fill="#000" stroke="#000" stroke-width="0.05">95% confidence intervals</text>
<text x="576.2" y="271.1" font-size="4.07" fill="#000" stroke="#000" stroke-width="0.05">P_value</text>
<text x="594" y="271.1" font-size="4.07" fill="#000" stroke="#000" stroke-width="0.05">Combine ES</text>
<rect x="415.9" y="274.3" width="71.1" height="6.6" fill="#efefef"/>
<rect x="494.5" y="274.3" width="71.2" height="6.6" fill="#efefef"/>
<rect x="415.9" y="284.09" width="71.1" height="6.6" fill="#efefef"/>
<rect x="494.5" y="284.09" width="71.2" height="6.6" fill="#efefef"/>
<rect x="415.9" y="293.87" width="71.1" height="6.6" fill="#efefef"/>
<rect x="494.5" y="293.87" width="71.2" height="6.6" fill="#efefef"/>
<rect x="415.9" y="303.66" width="71.1" height="6.6" fill="#efefef"/>
<rect x="494.5" y="303.66" width="71.2" height="6.6" fill="#efefef"/>
<rect x="415.9" y="313.44" width="71.1" height="6.6" fill="#efefef"/>
<rect x="494.5" y="313.44" width="71.2" height="6.6" fill="#efefef"/>
<rect x="415.9" y="323.23" width="71.1" height="6.6" fill="#efefef"/>
<rect x="494.5" y="323.23" width="71.2" height="6.6" fill="#efefef"/>
<rect x="415.9" y="333.02" width="71.1" height="6.6" fill="#efefef"/>
<rect x="494.5" y="333.02" width="71.2" height="6.6" fill="#efefef"/>
<rect x="415.9" y="342.8" width="71.1" height="6.6" fill="#efefef"/>
<rect x="494.5" y="342.8" width="71.2" height="6.6" fill="#efefef"/>
<line x1="547.8" y1="272.2" x2="547.8" y2="350.9" stroke="#333" stroke-width="0.4" stroke-dasharray="0.9 0.7"/>
<line x1="605.8" y1="272.7" x2="605.8" y2="350.9" stroke="#707070" stroke-width="0.65"/>
<text x="413" y="278.98" font-size="4.07" text-anchor="end" fill="#000" stroke="#000" stroke-width="0.05">Ligilactobacillus</text>
<g stroke="#222" stroke-width="0.25">
<line x1="416.61" y1="276" x2="417.19" y2="276" stroke="#333" stroke-width="0.35"/>
<line x1="417.19" y1="274.9" x2="417.19" y2="277.1" stroke="#333" stroke-width="0.35"/>
<line x1="456.74" y1="279.2" x2="475.93" y2="279.2" stroke="#333" stroke-width="0.35"/>
<line x1="475.93" y1="278.1" x2="475.93" y2="280.3" stroke="#333" stroke-width="0.35"/>
<rect x="415.9" y="274.4" width="0.71" height="3.2" fill="#2e8b3e"/>
<rect x="415.9" y="277.6" width="40.84" height="3.2" fill="#ee4135"/>
</g>
<line x1="504.92" y1="277.6" x2="527.78" y2="277.6" stroke="#333" stroke-width="0.35"/>
<line x1="504.92" y1="276.5" x2="504.92" y2="278.7" stroke="#333" stroke-width="0.35"/>
<line x1="527.78" y1="276.5" x2="527.78" y2="278.7" stroke="#333" stroke-width="0.35"/>
<circle cx="517.59" cy="277.6" r="1.55" fill="#ee4135" stroke="#333" stroke-width="0.25"/>
<text x="571" y="280.54" font-size="3.66" font-weight="bold" text-anchor="middle" fill="#ff2020" stroke="#ff2020" stroke-width="0.04">**</text>
<text x="576.2" y="279.77" font-size="3.54" fill="#000" stroke="#000" stroke-width="0.04">0.008113</text>
<line x1="605.8" y1="277.6" x2="593.7" y2="277.6" stroke="#333" stroke-width="0.35"/>
<path d="M592.3 277.6L593.7 276.2L595.1 277.6L593.7 279Z" fill="#ee4135" stroke="#333" stroke-width="0.3"/>
<text x="413" y="288.77" font-size="4.07" text-anchor="end" fill="#000" stroke="#000" stroke-width="0.05">Fusobacterium</text>
<g stroke="#222" stroke-width="0.25">
<line x1="428.49" y1="285.79" x2="436.5" y2="285.79" stroke="#333" stroke-width="0.35"/>
<line x1="436.5" y1="284.69" x2="436.5" y2="286.89" stroke="#333" stroke-width="0.35"/>
<line x1="417.08" y1="288.99" x2="419.55" y2="288.99" stroke="#333" stroke-width="0.35"/>
<line x1="419.55" y1="287.89" x2="419.55" y2="290.09" stroke="#333" stroke-width="0.35"/>
<rect x="415.9" y="284.19" width="12.59" height="3.2" fill="#2e8b3e"/>
<rect x="415.9" y="287.39" width="1.18" height="3.2" fill="#ee4135"/>
</g>
<line x1="551.88" y1="287.39" x2="562.24" y2="287.39" stroke="#333" stroke-width="0.35"/>
<line x1="551.88" y1="286.29" x2="551.88" y2="288.49" stroke="#333" stroke-width="0.35"/>
<line x1="562.24" y1="286.29" x2="562.24" y2="288.49" stroke="#333" stroke-width="0.35"/>
<circle cx="556.22" cy="287.39" r="1.55" fill="#2e8b3e" stroke="#333" stroke-width="0.25"/>
<text x="571" y="290.32" font-size="3.66" font-weight="bold" text-anchor="middle" fill="#ff2020" stroke="#ff2020" stroke-width="0.04">*</text>
<text x="576.2" y="289.55" font-size="3.54" fill="#000" stroke="#000" stroke-width="0.04">0.01571</text>
<line x1="605.8" y1="287.39" x2="609.08" y2="287.39" stroke="#333" stroke-width="0.35"/>
<path d="M607.68 287.39L609.08 285.99L610.48 287.39L609.08 288.79Z" fill="#2e8b3e" stroke="#333" stroke-width="0.3"/>
<text x="413" y="298.56" font-size="4.07" text-anchor="end" fill="#000" stroke="#000" stroke-width="0.05">Streptococcus</text>
<g stroke="#222" stroke-width="0.25">
<line x1="416.37" y1="295.57" x2="416.72" y2="295.57" stroke="#333" stroke-width="0.35"/>
<line x1="416.72" y1="294.47" x2="416.72" y2="296.67" stroke="#333" stroke-width="0.35"/>
<line x1="425.43" y1="298.77" x2="445.68" y2="298.77" stroke="#333" stroke-width="0.35"/>
<line x1="445.68" y1="297.67" x2="445.68" y2="299.87" stroke="#333" stroke-width="0.35"/>
<rect x="415.9" y="293.97" width="0.47" height="3.2" fill="#2e8b3e"/>
<rect x="415.9" y="297.17" width="9.53" height="3.2" fill="#ee4135"/>
</g>
<line x1="526.98" y1="297.17" x2="548.07" y2="297.17" stroke="#333" stroke-width="0.35"/>
<line x1="526.98" y1="296.07" x2="526.98" y2="298.27" stroke="#333" stroke-width="0.35"/>
<line x1="548.07" y1="296.07" x2="548.07" y2="298.27" stroke="#333" stroke-width="0.35"/>
<circle cx="540.53" cy="297.17" r="1.55" fill="#ee4135" stroke="#333" stroke-width="0.25"/>
<text x="571" y="300.11" font-size="3.66" font-weight="bold" text-anchor="middle" fill="#ff2020" stroke="#ff2020" stroke-width="0.04">*</text>
<text x="576.2" y="299.34" font-size="3.54" fill="#000" stroke="#000" stroke-width="0.04">0.01571</text>
<line x1="605.8" y1="297.17" x2="602.91" y2="297.17" stroke="#333" stroke-width="0.35"/>
<path d="M601.51 297.17L602.91 295.77L604.31 297.17L602.91 298.57Z" fill="#ee4135" stroke="#333" stroke-width="0.3"/>
<text x="413" y="308.34" font-size="4.07" text-anchor="end" fill="#000" stroke="#000" stroke-width="0.05">Prevotella_9</text>
<g stroke="#222" stroke-width="0.25">
<line x1="420.37" y1="305.36" x2="427.08" y2="305.36" stroke="#333" stroke-width="0.35"/>
<line x1="427.08" y1="304.26" x2="427.08" y2="306.46" stroke="#333" stroke-width="0.35"/>
<rect x="415.9" y="303.76" width="4.47" height="3.2" fill="#2e8b3e"/>
<rect x="415.9" y="306.96" width="0.15" height="3.2" fill="#ee4135"/>
</g>
<line x1="548.07" y1="306.96" x2="555.42" y2="306.96" stroke="#333" stroke-width="0.35"/>
<line x1="548.07" y1="305.86" x2="548.07" y2="308.06" stroke="#333" stroke-width="0.35"/>
<line x1="555.42" y1="305.86" x2="555.42" y2="308.06" stroke="#333" stroke-width="0.35"/>
<circle cx="551.34" cy="306.96" r="1.55" fill="#2e8b3e" stroke="#333" stroke-width="0.25"/>
<text x="571" y="309.9" font-size="3.66" font-weight="bold" text-anchor="middle" fill="#ff2020" stroke="#ff2020" stroke-width="0.04">**</text>
<text x="576.2" y="309.12" font-size="3.54" fill="#000" stroke="#000" stroke-width="0.04">0.007959</text>
<line x1="605.8" y1="306.96" x2="606.87" y2="306.96" stroke="#333" stroke-width="0.35"/>
<path d="M605.47 306.96L606.87 305.56L608.27 306.96L606.87 308.36Z" fill="#2e8b3e" stroke="#333" stroke-width="0.3"/>
<text x="413" y="318.13" font-size="4.07" text-anchor="end" fill="#000" stroke="#000" stroke-width="0.05">Faecalibacterium</text>
<g stroke="#222" stroke-width="0.25">
<line x1="419.08" y1="315.14" x2="422.84" y2="315.14" stroke="#333" stroke-width="0.35"/>
<line x1="422.84" y1="314.04" x2="422.84" y2="316.24" stroke="#333" stroke-width="0.35"/>
<rect x="415.9" y="313.54" width="3.18" height="3.2" fill="#2e8b3e"/>
<rect x="415.9" y="316.74" width="0.15" height="3.2" fill="#ee4135"/>
</g>
<line x1="548.51" y1="316.74" x2="551.7" y2="316.74" stroke="#333" stroke-width="0.35"/>
<line x1="548.51" y1="315.64" x2="548.51" y2="317.84" stroke="#333" stroke-width="0.35"/>
<line x1="551.7" y1="315.64" x2="551.7" y2="317.84" stroke="#333" stroke-width="0.35"/>
<circle cx="550.1" cy="316.74" r="1.55" fill="#2e8b3e" stroke="#333" stroke-width="0.25"/>
<text x="571" y="319.68" font-size="3.66" font-weight="bold" text-anchor="middle" fill="#ff2020" stroke="#ff2020" stroke-width="0.04">**</text>
<text x="576.2" y="318.91" font-size="3.54" fill="#000" stroke="#000" stroke-width="0.04">0.008113</text>
<line x1="605.8" y1="316.74" x2="606.73" y2="316.74" stroke="#333" stroke-width="0.35"/>
<path d="M605.33 316.74L606.73 315.34L608.13 316.74L606.73 318.14Z" fill="#2e8b3e" stroke="#333" stroke-width="0.3"/>
<text x="413" y="327.91" font-size="4.07" text-anchor="end" fill="#000" stroke="#000" stroke-width="0.05">[Ruminococcus]_gnavus_group</text>
<g stroke="#222" stroke-width="0.25">
<line x1="418.84" y1="324.93" x2="420.84" y2="324.93" stroke="#333" stroke-width="0.35"/>
<line x1="420.84" y1="323.83" x2="420.84" y2="326.03" stroke="#333" stroke-width="0.35"/>
<rect x="415.9" y="323.33" width="2.94" height="3.2" fill="#2e8b3e"/>
<rect x="415.9" y="326.53" width="0.15" height="3.2" fill="#ee4135"/>
</g>
<line x1="548.69" y1="326.53" x2="550.46" y2="326.53" stroke="#333" stroke-width="0.35"/>
<line x1="548.69" y1="325.43" x2="548.69" y2="327.63" stroke="#333" stroke-width="0.35"/>
<line x1="550.46" y1="325.43" x2="550.46" y2="327.63" stroke="#333" stroke-width="0.35"/>
<circle cx="549.66" cy="326.53" r="1.55" fill="#2e8b3e" stroke="#333" stroke-width="0.25"/>
<text x="571" y="329.47" font-size="3.66" font-weight="bold" text-anchor="middle" fill="#ff2020" stroke="#ff2020" stroke-width="0.04">**</text>
<text x="576.2" y="328.7" font-size="3.54" fill="#000" stroke="#000" stroke-width="0.04">0.008113</text>
<line x1="605.8" y1="326.53" x2="606.44" y2="326.53" stroke="#333" stroke-width="0.35"/>
<path d="M605.04 326.53L606.44 325.13L607.84 326.53L606.44 327.93Z" fill="#2e8b3e" stroke="#333" stroke-width="0.3"/>
<text x="413" y="337.7" font-size="4.07" text-anchor="end" fill="#000" stroke="#000" stroke-width="0.05">Alloprevotella</text>
<g stroke="#222" stroke-width="0.25">
<line x1="418.61" y1="334.72" x2="421.43" y2="334.72" stroke="#333" stroke-width="0.35"/>
<line x1="421.43" y1="333.62" x2="421.43" y2="335.82" stroke="#333" stroke-width="0.35"/>
<rect x="415.9" y="333.12" width="2.71" height="3.2" fill="#2e8b3e"/>
<rect x="415.9" y="336.32" width="0.15" height="3.2" fill="#ee4135"/>
</g>
<line x1="548.33" y1="336.32" x2="551.34" y2="336.32" stroke="#333" stroke-width="0.35"/>
<line x1="548.33" y1="335.22" x2="548.33" y2="337.42" stroke="#333" stroke-width="0.35"/>
<line x1="551.34" y1="335.22" x2="551.34" y2="337.42" stroke="#333" stroke-width="0.35"/>
<circle cx="549.93" cy="336.32" r="1.55" fill="#2e8b3e" stroke="#333" stroke-width="0.25"/>
<text x="571" y="339.25" font-size="3.66" font-weight="bold" text-anchor="middle" fill="#ff2020" stroke="#ff2020" stroke-width="0.04">*</text>
<text x="576.2" y="338.48" font-size="3.54" fill="#000" stroke="#000" stroke-width="0.04">0.02249</text>
<line x1="605.8" y1="336.32" x2="606.51" y2="336.32" stroke="#333" stroke-width="0.35"/>
<path d="M605.11 336.32L606.51 334.92L607.91 336.32L606.51 337.72Z" fill="#2e8b3e" stroke="#333" stroke-width="0.3"/>
<text x="413" y="347.49" font-size="4.07" text-anchor="end" fill="#000" stroke="#000" stroke-width="0.05">Parasutterella</text>
<g stroke="#222" stroke-width="0.25">
<line x1="418.25" y1="344.5" x2="420.02" y2="344.5" stroke="#333" stroke-width="0.35"/>
<line x1="420.02" y1="343.4" x2="420.02" y2="345.6" stroke="#333" stroke-width="0.35"/>
<rect x="415.9" y="342.9" width="2.35" height="3.2" fill="#2e8b3e"/>
<rect x="415.9" y="346.1" width="0.15" height="3.2" fill="#ee4135"/>
</g>
<line x1="548.42" y1="346.1" x2="550.64" y2="346.1" stroke="#333" stroke-width="0.35"/>
<line x1="548.42" y1="345" x2="548.42" y2="347.2" stroke="#333" stroke-width="0.35"/>
<line x1="550.64" y1="345" x2="550.64" y2="347.2" stroke="#333" stroke-width="0.35"/>
<circle cx="549.57" cy="346.1" r="1.55" fill="#2e8b3e" stroke="#333" stroke-width="0.25"/>
<text x="571" y="349.04" font-size="3.66" font-weight="bold" text-anchor="middle" fill="#ff2020" stroke="#ff2020" stroke-width="0.04">*</text>
<text x="576.2" y="348.27" font-size="3.54" fill="#000" stroke="#000" stroke-width="0.04">0.03075</text>
<line x1="605.8" y1="346.1" x2="606.41" y2="346.1" stroke="#333" stroke-width="0.35"/>
<path d="M605.01 346.1L606.41 344.7L607.81 346.1L606.41 347.5Z" fill="#2e8b3e" stroke="#333" stroke-width="0.3"/>
<line x1="415.9" y1="350.9" x2="486.52" y2="350.9" stroke="#222" stroke-width="0.4"/>
<line x1="415.9" y1="350.9" x2="415.9" y2="352.2" stroke="#222" stroke-width="0.35"/>
<text x="415.9" y="356.1" font-size="3.87" text-anchor="middle" fill="#000" stroke="#000" stroke-width="0.05">0</text>
<line x1="427.67" y1="350.9" x2="427.67" y2="352.2" stroke="#222" stroke-width="0.35"/>
<text x="427.67" y="356.1" font-size="3.87" text-anchor="middle" fill="#000" stroke="#000" stroke-width="0.05">10</text>
<line x1="439.44" y1="350.9" x2="439.44" y2="352.2" stroke="#222" stroke-width="0.35"/>
<text x="439.44" y="356.1" font-size="3.87" text-anchor="middle" fill="#000" stroke="#000" stroke-width="0.05">20</text>
<line x1="451.21" y1="350.9" x2="451.21" y2="352.2" stroke="#222" stroke-width="0.35"/>
<text x="451.21" y="356.1" font-size="3.87" text-anchor="middle" fill="#000" stroke="#000" stroke-width="0.05">30</text>
<line x1="462.98" y1="350.9" x2="462.98" y2="352.2" stroke="#222" stroke-width="0.35"/>
<text x="462.98" y="356.1" font-size="3.87" text-anchor="middle" fill="#000" stroke="#000" stroke-width="0.05">40</text>
<line x1="474.75" y1="350.9" x2="474.75" y2="352.2" stroke="#222" stroke-width="0.35"/>
<text x="474.75" y="356.1" font-size="3.87" text-anchor="middle" fill="#000" stroke="#000" stroke-width="0.05">50</text>
<line x1="486.52" y1="350.9" x2="486.52" y2="352.2" stroke="#222" stroke-width="0.35"/>
<text x="486.52" y="356.1" font-size="3.87" text-anchor="middle" fill="#000" stroke="#000" stroke-width="0.05">60</text>
<line x1="494.64" y1="350.9" x2="565.52" y2="350.9" stroke="#222" stroke-width="0.4"/>
<line x1="494.64" y1="350.9" x2="494.64" y2="352.2" stroke="#222" stroke-width="0.35"/>
<text x="494.64" y="356.1" font-size="3.87" text-anchor="middle" fill="#000" stroke="#000" stroke-width="0.05">-60</text>
<line x1="512.36" y1="350.9" x2="512.36" y2="352.2" stroke="#222" stroke-width="0.35"/>
<text x="512.36" y="356.1" font-size="3.87" text-anchor="middle" fill="#000" stroke="#000" stroke-width="0.05">-40</text>
<line x1="530.08" y1="350.9" x2="530.08" y2="352.2" stroke="#222" stroke-width="0.35"/>
<text x="530.08" y="356.1" font-size="3.87" text-anchor="middle" fill="#000" stroke="#000" stroke-width="0.05">-20</text>
<line x1="547.8" y1="350.9" x2="547.8" y2="352.2" stroke="#222" stroke-width="0.35"/>
<text x="547.8" y="356.1" font-size="3.87" text-anchor="middle" fill="#000" stroke="#000" stroke-width="0.05">0</text>
<line x1="565.52" y1="350.9" x2="565.52" y2="352.2" stroke="#222" stroke-width="0.35"/>
<text x="565.52" y="356.1" font-size="3.87" text-anchor="middle" fill="#000" stroke="#000" stroke-width="0.05">20</text>
<line x1="587.95" y1="350.9" x2="623.65" y2="350.9" stroke="#222" stroke-width="0.4"/>
<line x1="587.95" y1="350.9" x2="587.95" y2="352.2" stroke="#222" stroke-width="0.35"/>
<text x="587.95" y="356.5" font-size="3.87" text-anchor="middle" fill="#000" stroke="#000" stroke-width="0.05">-50</text>
<line x1="605.8" y1="350.9" x2="605.8" y2="352.2" stroke="#222" stroke-width="0.35"/>
<text x="605.8" y="356.5" font-size="3.87" text-anchor="middle" fill="#000" stroke="#000" stroke-width="0.05">0</text>
<line x1="623.65" y1="350.9" x2="623.65" y2="352.2" stroke="#222" stroke-width="0.35"/>
<text x="623.65" y="356.5" font-size="3.87" text-anchor="middle" fill="#000" stroke="#000" stroke-width="0.05">50</text>
<text x="451.3" y="363.2" font-size="4.07" font-weight="bold" text-anchor="middle" fill="#000" stroke="#000" stroke-width="0.05">Proportions(%)</text>
<text x="530" y="363.2" font-size="4.07" font-weight="bold" text-anchor="middle" fill="#000" stroke="#000" stroke-width="0.05">Difference between proportions(%)</text>
<rect x="674.6" y="269.2" width="3.4" height="3.5" fill="#2e8b3e"/>
<text x="678.9" y="272.15" font-size="3.58" fill="#000" stroke="#000" stroke-width="0.04">N_a</text>
<rect x="674.6" y="275.8" width="3.4" height="3.5" fill="#ee4135"/>
<text x="678.9" y="278.75" font-size="3.58" fill="#000" stroke="#000" stroke-width="0.04">N_c</text>
</g>
</svg>
</body></html>
